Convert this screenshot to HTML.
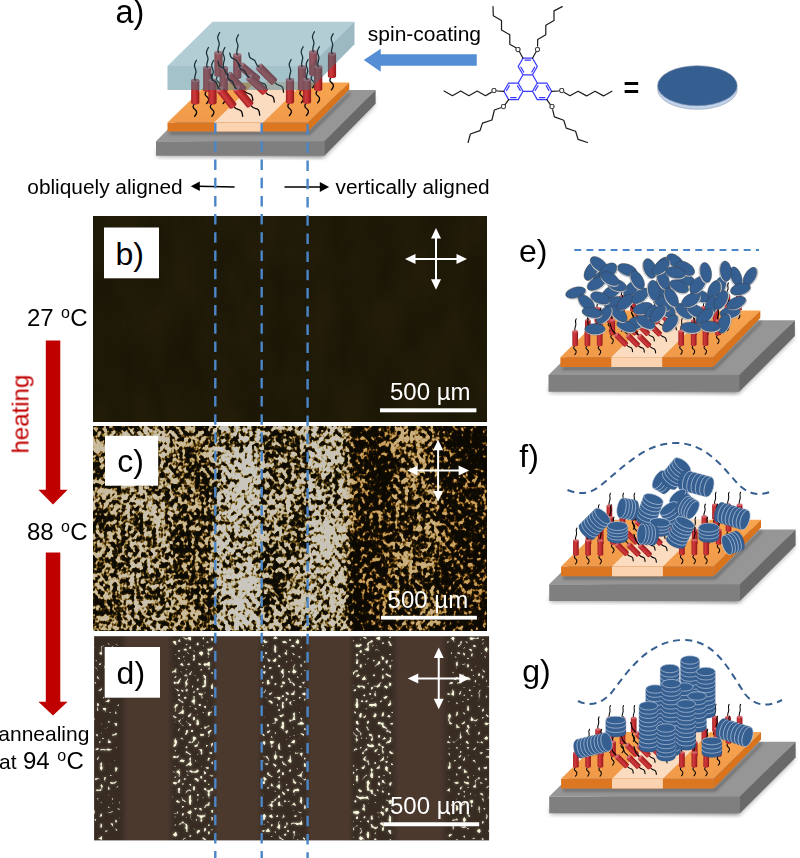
<!DOCTYPE html>
<html><head><meta charset="utf-8"><title>Figure</title>
<style>
html,body{margin:0;padding:0;background:#fff;}
svg{display:block;}
text{font-family:"Liberation Sans",sans-serif;fill:#000;}
.tl{fill:none;stroke:#000;stroke-width:1.3;stroke-linecap:round;}
.tl2{fill:none;stroke-width:1.3;stroke-linecap:round;}
.ts{fill:none;stroke:#000;stroke-width:1.05;stroke-linecap:round;}
.dash{stroke:#4a86c8;stroke-width:2.4;stroke-dasharray:10.5 7.7;fill:none;}
.bb{stroke:#3838ff;stroke-width:1.25;fill:none;stroke-linecap:round;stroke-linejoin:round;}
.kb{stroke:#1a1a1a;stroke-width:1.2;fill:none;stroke-linecap:round;stroke-linejoin:round;}
.ol{font-size:7px;fill:#1a1a1a;stroke:#1a1a1a;stroke-width:0.25;text-anchor:middle;}
.dk{fill:#365f91;stroke:#e8eef5;stroke-width:0.6;}
.wl{fill:none;stroke:#cfdbea;stroke-width:0.55;}
</style></head><body>
<svg width="800" height="858" viewBox="0 0 800 858">
<defs>
<linearGradient id="gRod" x1="0" x2="1" y1="0" y2="0">
<stop offset="0" stop-color="#a51f24"/><stop offset="0.35" stop-color="#cf3b3d"/><stop offset="0.7" stop-color="#b9282c"/><stop offset="1" stop-color="#8e181c"/>
</linearGradient>
<linearGradient id="gOr" x1="0" x2="0" y1="0" y2="1">
<stop offset="0" stop-color="#f9a54f"/><stop offset="1" stop-color="#f09a4a"/>
</linearGradient>
<filter id="blur3" x="-20%" y="-50%" width="140%" height="200%"><feGaussianBlur stdDeviation="2.5"/></filter>
<filter id="blur2" x="-20%" y="-50%" width="140%" height="200%"><feGaussianBlur stdDeviation="1.5"/></filter>
</defs>
<rect width="800" height="858" fill="#fff"/>

<!-- panel a -->
<polygon points="157.0,151.8 324.4,156.8 373.6,106.6 373.6,96.0" fill="#000" opacity="0.35" filter="url(#blur3)"/>
<rect x="157.0" y="150.8" width="166.4" height="6" fill="#000" opacity="0.35" filter="url(#blur3)"/>
<polygon points="156.00,141.20 324.40,141.20 375.60,90.00 207.20,90.00" fill="#969696" />
<polygon points="156.00,141.20 324.40,141.20 324.40,155.80 156.00,155.80" fill="#7f7f7f" />
<polygon points="324.40,141.20 375.60,90.00 375.60,103.80 324.40,155.80" fill="#696969" />
<polygon points="169.50,131.50 309.00,131.50 350.25,91.50 350.25,94.50 310.00,134.50 169.50,134.50" fill="#000" opacity="0.3" filter="url(#blur2)"/>
<polygon points="167.50,122.50 308.00,122.50 349.25,82.50 208.75,82.50" fill="url(#gOr)" />
<polygon points="214.00,122.50 263.00,122.50 304.25,82.50 255.25,82.50" fill="#fcdcc1" />
<polygon points="167.50,122.50 308.00,122.50 308.00,131.50 167.50,131.50" fill="#dc7620" />
<polygon points="214.00,122.50 263.00,122.50 263.00,131.50 214.00,131.50" fill="#fbd3b1" />
<polygon points="308.00,122.50 349.25,82.50 349.25,89.50 308.00,131.50" fill="#d9731c" />
<path d="M313.25,74.75 c-3.2,2.5 -2.6,4.6 -0.2,6.2 c2.6,1.8 1.8,4.6 -0.4,6.8" class="tl"/>
<g transform="translate(313.25,51.75) rotate(0.0)">
<path d="M-4.10,0 V22.50 A4.10,1.80 0 0 0 4.10,22.50 V0 Z" fill="url(#gRod)"/>
<ellipse cx="0" cy="0" rx="4.10" ry="1.80" fill="#d4646a"/>
</g>
<path d="M218.50,75.50 c-3.2,2.5 -2.6,4.6 -0.2,6.2 c2.6,1.8 1.8,4.6 -0.4,6.8" class="tl"/>
<g transform="translate(218.50,52.50) rotate(0.0)">
<path d="M-4.10,0 V22.50 A4.10,1.80 0 0 0 4.10,22.50 V0 Z" fill="url(#gRod)"/>
<ellipse cx="0" cy="0" rx="4.10" ry="1.80" fill="#d4646a"/>
</g>
<path d="M332.00,76.70 c-3.2,2.5 -2.6,4.6 -0.2,6.2 c2.6,1.8 1.8,4.6 -0.4,6.8" class="tl"/>
<g transform="translate(332.00,53.70) rotate(0.0)">
<path d="M-4.10,0 V22.50 A4.10,1.80 0 0 0 4.10,22.50 V0 Z" fill="url(#gRod)"/>
<ellipse cx="0" cy="0" rx="4.10" ry="1.80" fill="#d4646a"/>
</g>
<path d="M237.25,77.75 c-3.2,2.5 -2.6,4.6 -0.2,6.2 c2.6,1.8 1.8,4.6 -0.4,6.8" class="tl"/>
<g transform="translate(237.25,54.75) rotate(0.0)">
<path d="M-4.10,0 V22.50 A4.10,1.80 0 0 0 4.10,22.50 V0 Z" fill="url(#gRod)"/>
<ellipse cx="0" cy="0" rx="4.10" ry="1.80" fill="#d4646a"/>
</g>
<path d="M302.00,89.75 c-3.2,2.5 -2.6,4.6 -0.2,6.2 c2.6,1.8 1.8,4.6 -0.4,6.8" class="tl"/>
<g transform="translate(302.00,66.75) rotate(0.0)">
<path d="M-4.10,0 V22.50 A4.10,1.80 0 0 0 4.10,22.50 V0 Z" fill="url(#gRod)"/>
<ellipse cx="0" cy="0" rx="4.10" ry="1.80" fill="#d4646a"/>
</g>
<path d="M318.20,89.75 c-3.2,2.5 -2.6,4.6 -0.2,6.2 c2.6,1.8 1.8,4.6 -0.4,6.8" class="tl"/>
<g transform="translate(318.20,66.75) rotate(0.0)">
<path d="M-4.10,0 V22.50 A4.10,1.80 0 0 0 4.10,22.50 V0 Z" fill="url(#gRod)"/>
<ellipse cx="0" cy="0" rx="4.10" ry="1.80" fill="#d4646a"/>
</g>
<path d="M207.25,90.50 c-3.2,2.5 -2.6,4.6 -0.2,6.2 c2.6,1.8 1.8,4.6 -0.4,6.8" class="tl"/>
<g transform="translate(207.25,67.50) rotate(0.0)">
<path d="M-4.10,0 V22.50 A4.10,1.80 0 0 0 4.10,22.50 V0 Z" fill="url(#gRod)"/>
<ellipse cx="0" cy="0" rx="4.10" ry="1.80" fill="#d4646a"/>
</g>
<path d="M223.75,90.50 c-3.2,2.5 -2.6,4.6 -0.2,6.2 c2.6,1.8 1.8,4.6 -0.4,6.8" class="tl"/>
<g transform="translate(223.75,67.50) rotate(0.0)">
<path d="M-4.10,0 V22.50 A4.10,1.80 0 0 0 4.10,22.50 V0 Z" fill="url(#gRod)"/>
<ellipse cx="0" cy="0" rx="4.10" ry="1.80" fill="#d4646a"/>
</g>
<path d="M290.00,102.50 c-3.2,2.5 -2.6,4.6 -0.2,6.2 c2.6,1.8 1.8,4.6 -0.4,6.8" class="tl"/>
<g transform="translate(290.00,79.50) rotate(0.0)">
<path d="M-4.10,0 V22.50 A4.10,1.80 0 0 0 4.10,22.50 V0 Z" fill="url(#gRod)"/>
<ellipse cx="0" cy="0" rx="4.10" ry="1.80" fill="#d4646a"/>
</g>
<path d="M307.00,102.50 c-3.2,2.5 -2.6,4.6 -0.2,6.2 c2.6,1.8 1.8,4.6 -0.4,6.8" class="tl"/>
<g transform="translate(307.00,79.50) rotate(0.0)">
<path d="M-4.10,0 V22.50 A4.10,1.80 0 0 0 4.10,22.50 V0 Z" fill="url(#gRod)"/>
<ellipse cx="0" cy="0" rx="4.10" ry="1.80" fill="#d4646a"/>
</g>
<path d="M195.25,103.25 c-3.2,2.5 -2.6,4.6 -0.2,6.2 c2.6,1.8 1.8,4.6 -0.4,6.8" class="tl"/>
<g transform="translate(195.25,80.25) rotate(0.0)">
<path d="M-4.10,0 V22.50 A4.10,1.80 0 0 0 4.10,22.50 V0 Z" fill="url(#gRod)"/>
<ellipse cx="0" cy="0" rx="4.10" ry="1.80" fill="#d4646a"/>
</g>
<path d="M212.50,103.25 c-3.2,2.5 -2.6,4.6 -0.2,6.2 c2.6,1.8 1.8,4.6 -0.4,6.8" class="tl"/>
<g transform="translate(212.50,80.25) rotate(0.0)">
<path d="M-4.10,0 V22.50 A4.10,1.80 0 0 0 4.10,22.50 V0 Z" fill="url(#gRod)"/>
<ellipse cx="0" cy="0" rx="4.10" ry="1.80" fill="#d4646a"/>
</g>
<path d="M257.09,79.50 c2.5,3 5,4 7,4.3 c1.8,0.5 2.5,3.5 2.7,6.2" class="tl"/>
<g transform="translate(241.00,66.00) rotate(-50.0)">
<path d="M-4.10,0 V21.00 A4.10,1.80 0 0 0 4.10,21.00 V0 Z" fill="url(#gRod)"/>
<ellipse cx="0" cy="0" rx="4.10" ry="1.80" fill="#d4646a"/>
</g>
<path d="M273.85,81.60 c2.5,3 5,4 7,4.3 c1.8,0.5 2.5,3.5 2.7,6.2" class="tl"/>
<g transform="translate(259.00,66.75) rotate(-45.0)">
<path d="M-4.10,0 V21.00 A4.10,1.80 0 0 0 4.10,21.00 V0 Z" fill="url(#gRod)"/>
<ellipse cx="0" cy="0" rx="4.10" ry="1.80" fill="#d4646a"/>
</g>
<path d="M243.10,89.85 c2.5,3 5,4 7,4.3 c1.8,0.5 2.5,3.5 2.7,6.2" class="tl"/>
<g transform="translate(228.25,75.00) rotate(-45.0)">
<path d="M-4.10,0 V21.00 A4.10,1.80 0 0 0 4.10,21.00 V0 Z" fill="url(#gRod)"/>
<ellipse cx="0" cy="0" rx="4.10" ry="1.80" fill="#d4646a"/>
</g>
<path d="M264.61,91.57 c2.5,3 5,4 7,4.3 c1.8,0.5 2.5,3.5 2.7,6.2" class="tl"/>
<g transform="translate(249.25,77.25) rotate(-47.0)">
<path d="M-4.10,0 V21.00 A4.10,1.80 0 0 0 4.10,21.00 V0 Z" fill="url(#gRod)"/>
<ellipse cx="0" cy="0" rx="4.10" ry="1.80" fill="#d4646a"/>
</g>
<path d="M250.00,104.59 c2.5,3 5,4 7,4.3 c1.8,0.5 2.5,3.5 2.7,6.2" class="tl"/>
<g transform="translate(236.50,88.50) rotate(-40.0)">
<path d="M-4.10,0 V21.00 A4.10,1.80 0 0 0 4.10,21.00 V0 Z" fill="url(#gRod)"/>
<ellipse cx="0" cy="0" rx="4.10" ry="1.80" fill="#d4646a"/>
</g>
<path d="M232.93,105.80 c2.5,3 5,4 7,4.3 c1.8,0.5 2.5,3.5 2.7,6.2" class="tl"/>
<g transform="translate(220.00,89.25) rotate(-38.0)">
<path d="M-4.10,0 V21.00 A4.10,1.80 0 0 0 4.10,21.00 V0 Z" fill="url(#gRod)"/>
<ellipse cx="0" cy="0" rx="4.10" ry="1.80" fill="#d4646a"/>
</g>
<polygon points="167.50,66.00 212.50,21.75 354.50,21.75 309.50,66.00" fill="#4a8799" opacity="0.42"/>
<polygon points="167.50,66.00 309.50,66.00 309.50,90.00 167.50,90.00" fill="#3e7e8e" opacity="0.47"/>
<polygon points="309.50,66.00 354.50,21.75 354.50,44.25 309.50,90.00" fill="#3a7484" opacity="0.5"/>
<g style="stroke:#1c3038">
<path transform="translate(218.50,52.50) rotate(0.0)" d="M0,0 c-2.5,-4.0 2.5,-7.0 0.3,-11.0 s-0.8,-6.0 0.9,-9.0" class="tl2"/>
<path transform="translate(237.25,54.75) rotate(0.0)" d="M0,0 c-2.5,-4.0 2.5,-7.0 0.3,-11.0 s-0.8,-6.0 0.9,-9.0" class="tl2"/>
<path transform="translate(207.25,67.50) rotate(0.0)" d="M0,0 c-2.5,-4.0 2.5,-7.0 0.3,-11.0 s-0.8,-6.0 0.9,-9.0" class="tl2"/>
<path transform="translate(223.75,67.50) rotate(0.0)" d="M0,0 c-2.5,-4.0 2.5,-7.0 0.3,-11.0 s-0.8,-6.0 0.9,-9.0" class="tl2"/>
<path transform="translate(195.25,80.25) rotate(0.0)" d="M0,0 c-2.5,-4.0 2.5,-7.0 0.3,-11.0 s-0.8,-6.0 0.9,-9.0" class="tl2"/>
<path transform="translate(212.50,80.25) rotate(0.0)" d="M0,0 c-2.5,-4.0 2.5,-7.0 0.3,-11.0 s-0.8,-6.0 0.9,-9.0" class="tl2"/>
<path transform="translate(313.25,51.75) rotate(0.0)" d="M0,0 c-2.5,-4.0 2.5,-7.0 0.3,-11.0 s-0.8,-6.0 0.9,-9.0" class="tl2"/>
<path transform="translate(332.00,53.70) rotate(0.0)" d="M0,0 c-2.5,-4.0 2.5,-7.0 0.3,-11.0 s-0.8,-6.0 0.9,-9.0" class="tl2"/>
<path transform="translate(302.00,66.75) rotate(0.0)" d="M0,0 c-2.5,-4.0 2.5,-7.0 0.3,-11.0 s-0.8,-6.0 0.9,-9.0" class="tl2"/>
<path transform="translate(318.20,66.75) rotate(0.0)" d="M0,0 c-2.5,-4.0 2.5,-7.0 0.3,-11.0 s-0.8,-6.0 0.9,-9.0" class="tl2"/>
<path transform="translate(290.00,79.50) rotate(0.0)" d="M0,0 c-2.5,-4.0 2.5,-7.0 0.3,-11.0 s-0.8,-6.0 0.9,-9.0" class="tl2"/>
<path transform="translate(307.00,79.50) rotate(0.0)" d="M0,0 c-2.5,-4.0 2.5,-7.0 0.3,-11.0 s-0.8,-6.0 0.9,-9.0" class="tl2"/>
<path transform="translate(259.00,66.75) rotate(-40.5)" d="M0,0 c-2.5,-3.4 2.5,-5.9 0.3,-9.4 s-0.8,-5.1 0.9,-7.7" class="tl2"/>
<path transform="translate(241.00,66.00) rotate(-45.0)" d="M0,0 c-2.5,-3.4 2.5,-5.9 0.3,-9.4 s-0.8,-5.1 0.9,-7.7" class="tl2"/>
<path transform="translate(228.25,75.00) rotate(-40.5)" d="M0,0 c-2.5,-3.4 2.5,-5.9 0.3,-9.4 s-0.8,-5.1 0.9,-7.7" class="tl2"/>
<path transform="translate(249.25,77.25) rotate(-42.3)" d="M0,0 c-2.5,-3.4 2.5,-5.9 0.3,-9.4 s-0.8,-5.1 0.9,-7.7" class="tl2"/>
<path transform="translate(220.00,89.25) rotate(-34.2)" d="M0,0 c-2.5,-3.4 2.5,-5.9 0.3,-9.4 s-0.8,-5.1 0.9,-7.7" class="tl2"/>
<path transform="translate(236.50,88.50) rotate(-36.0)" d="M0,0 c-2.5,-3.4 2.5,-5.9 0.3,-9.4 s-0.8,-5.1 0.9,-7.7" class="tl2"/>
</g>
<text x="115.5" y="23.3" font-size="32.5">a)</text>
<text x="367.8" y="41.3" font-size="21">spin-coating</text>
<polygon points="363.75,60 380.75,48.75 380.75,54.25 476.75,54.25 476.75,65.75 380.75,65.75 380.75,71.75" fill="#558ed5"/>
<text x="27.3" y="194" font-size="20.85">obliquely aligned</text>
<text x="335.6" y="194" font-size="20.85">vertically aligned</text>
<path d="M234.6,187.1 L198,186.3" stroke="#000" stroke-width="1.5"/><polygon points="190.8,186.2 199.8,181.4 199.8,191.1"/>
<path d="M284.5,187 H321" stroke="#000" stroke-width="1.5"/><polygon points="329.1,187 319.8,182.1 319.8,191.9"/>
<path class="bb" d="M537.30,66.50 L532.52,58.23 L522.98,58.23 L518.20,66.50 L522.98,74.77 L532.52,74.77 ZM522.97,91.31 L518.20,83.04 L508.65,83.04 L503.87,91.31 L508.65,99.58 L518.20,99.58 ZM551.62,91.31 L546.85,83.04 L537.30,83.04 L532.53,91.31 L537.30,99.58 L546.85,99.58 ZM537.30,83.04 L532.52,74.77 L522.98,74.77 L518.20,83.04 L522.98,91.31 L532.52,91.31 ZM530.51,60.21 L524.99,60.21M520.93,67.25 L523.69,72.03M531.81,72.03 L534.57,67.25M509.36,85.78 L506.60,90.56M510.67,97.60 L516.18,97.60M520.25,90.56 L517.49,85.78M548.90,90.56 L546.14,85.78M539.32,97.60 L544.83,97.60M538.01,85.78 L535.25,90.56"/>
<path class="kb" d="M522.98,58.23 L519.51,51.75 M515.50,47.60 L509.80,44.30 L509.80,34.80 L501.50,30.00 L501.50,20.40 L493.30,15.70 L493.00,6.60 M532.52,58.23 L536.06,51.73 M537.56,46.10 L537.70,39.50 L545.80,34.80 L545.80,25.20 L554.00,20.40 L554.00,10.90 L562.20,6.60 M503.87,91.31 L496.90,91.02 M491.30,92.39 L485.50,95.70 L477.20,91.10 L468.90,95.70 L460.70,91.10 L452.40,95.70 L444.10,91.10 M508.65,99.58 L505.24,104.36 M500.67,107.80 L494.40,110.00 L491.90,120.00 L482.50,123.10 L480.00,130.60 L470.40,134.00 L468.10,142.50 M551.62,91.31 L558.70,91.02 M564.30,92.40 L570.00,95.70 L578.10,91.20 L586.60,95.90 L595.00,91.20 L603.50,95.90 L611.90,91.20 M546.85,99.58 L550.18,104.34 M552.62,109.71 L554.40,116.90 L563.75,120.25 L566.25,128.10 L575.60,131.25 L578.10,139.40 L587.50,142.50 "/>
<text class="ol" x="518.10" y="51.60">O</text>
<text class="ol" x="537.50" y="51.60">O</text>
<text class="ol" x="493.90" y="93.40">O</text>
<text class="ol" x="503.50" y="109.30">O</text>
<text class="ol" x="561.70" y="93.40">O</text>
<text class="ol" x="551.90" y="109.30">O</text>
<text x="623.6" y="96.8" font-size="27" font-weight="bold">=</text>
<ellipse cx="697.4" cy="89.3" rx="39.8" ry="20" fill="#c0d2ec" stroke="#9aa6b5" stroke-width="0.7"/>
<ellipse cx="697.4" cy="85.7" rx="39.8" ry="20" fill="#365f91" stroke="#7f8fa6" stroke-width="0.6"/>
<!-- panel b -->
<defs><linearGradient id="tintC" x1="93" x2="487" y1="0" y2="0" gradientUnits="userSpaceOnUse">
<stop offset="0.0000" stop-color="#fff2d6"/>
<stop offset="0.0635" stop-color="#fff3da"/>
<stop offset="0.0838" stop-color="#fff8ea"/>
<stop offset="0.2005" stop-color="#fff8ea"/>
<stop offset="0.2208" stop-color="#fff0d0"/>
<stop offset="0.2919" stop-color="#fff0d0"/>
<stop offset="0.3122" stop-color="#ffffff"/>
<stop offset="0.4213" stop-color="#ffffff"/>
<stop offset="0.4391" stop-color="#fffaf0"/>
<stop offset="0.5330" stop-color="#fffaf0"/>
<stop offset="0.5508" stop-color="#ffffff"/>
<stop offset="0.6396" stop-color="#fffaf0"/>
<stop offset="0.6675" stop-color="#ffd894"/>
<stop offset="0.7487" stop-color="#ffd894"/>
<stop offset="0.7690" stop-color="#ffe2ac"/>
<stop offset="0.8655" stop-color="#ffe2ac"/>
<stop offset="0.8959" stop-color="#ffd48c"/>
<stop offset="1.0000" stop-color="#ffd48c"/>
</linearGradient></defs>
<defs>
<linearGradient id="biasC" x1="93" x2="487" y1="0" y2="0" gradientUnits="userSpaceOnUse">
<stop offset="0.0000" stop-color="#666666"/>
<stop offset="0.0635" stop-color="#6b6b6b"/>
<stop offset="0.0838" stop-color="#787878"/>
<stop offset="0.1447" stop-color="#7a7a7a"/>
<stop offset="0.2005" stop-color="#787878"/>
<stop offset="0.2208" stop-color="#616161"/>
<stop offset="0.2919" stop-color="#5e5e5e"/>
<stop offset="0.3122" stop-color="#9e9e9e"/>
<stop offset="0.4213" stop-color="#9e9e9e"/>
<stop offset="0.4391" stop-color="#757575"/>
<stop offset="0.5330" stop-color="#757575"/>
<stop offset="0.5508" stop-color="#9e9e9e"/>
<stop offset="0.6396" stop-color="#999999"/>
<stop offset="0.6675" stop-color="#383838"/>
<stop offset="0.7487" stop-color="#3d3d3d"/>
<stop offset="0.7690" stop-color="#616161"/>
<stop offset="0.8655" stop-color="#5c5c5c"/>
<stop offset="0.8959" stop-color="#333333"/>
<stop offset="1.0000" stop-color="#333333"/>
</linearGradient>
<filter id="fC" filterUnits="userSpaceOnUse" x="93.1" y="426.1" width="393.6" height="204.65" color-interpolation-filters="sRGB">
<feTurbulence type="fractalNoise" baseFrequency="0.23 0.19" numOctaves="2" seed="11" result="t"/>
<feColorMatrix in="t" type="matrix" values="1 0 0 0 0  1 0 0 0 0  1 0 0 0 0  0 0 0 0 1" result="n"/>
<feTurbulence type="fractalNoise" baseFrequency="0.035" numOctaves="2" seed="5" result="t2"/>
<feColorMatrix in="t2" type="matrix" values="1 0 0 0 0  1 0 0 0 0  1 0 0 0 0  0 0 0 0 1" result="m"/>
<feComposite in="m" in2="SourceGraphic" operator="arithmetic" k1="0" k2="0.9" k3="1" k4="-0.45" result="b2"/>
<feComposite in="n" in2="b2" operator="arithmetic" k1="0" k2="2.0" k3="1" k4="-1.0" result="s"/>
<feComponentTransfer in="s">
<feFuncR type="table" tableValues="0.05 0.06 0.07 0.10 0.27 0.56 0.74 0.78 0.79 0.79 0.79"/>
<feFuncG type="table" tableValues="0.04 0.05 0.06 0.08 0.20 0.44 0.70 0.77 0.78 0.78 0.78"/>
<feFuncB type="table" tableValues="0.02 0.02 0.02 0.02 0.05 0.18 0.57 0.72 0.75 0.75 0.75"/>
</feComponentTransfer>
</filter>
<linearGradient id="biasD" x1="93" x2="487" y1="0" y2="0" gradientUnits="userSpaceOnUse">
<stop offset="0.0000" stop-color="#646464"/>
<stop offset="0.0635" stop-color="#646464"/>
<stop offset="0.0863" stop-color="#000000"/>
<stop offset="0.1904" stop-color="#000000"/>
<stop offset="0.2056" stop-color="#727272"/>
<stop offset="0.2335" stop-color="#6d6d6d"/>
<stop offset="0.2792" stop-color="#6d6d6d"/>
<stop offset="0.3020" stop-color="#727272"/>
<stop offset="0.3147" stop-color="#000000"/>
<stop offset="0.4188" stop-color="#000000"/>
<stop offset="0.4315" stop-color="#6b6b6b"/>
<stop offset="0.5381" stop-color="#6b6b6b"/>
<stop offset="0.5508" stop-color="#000000"/>
<stop offset="0.6497" stop-color="#000000"/>
<stop offset="0.6624" stop-color="#727272"/>
<stop offset="0.6904" stop-color="#6f6f6f"/>
<stop offset="0.7589" stop-color="#6f6f6f"/>
<stop offset="0.7741" stop-color="#000000"/>
<stop offset="0.8832" stop-color="#000000"/>
<stop offset="0.9010" stop-color="#696969"/>
<stop offset="1.0000" stop-color="#646464"/>
</linearGradient>
<linearGradient id="bgD" x1="93" x2="487" y1="0" y2="0" gradientUnits="userSpaceOnUse">
<stop offset="0.0000" stop-color="#372b22"/>
<stop offset="0.0685" stop-color="#372b22"/>
<stop offset="0.0888" stop-color="#4b392e"/>
<stop offset="0.1878" stop-color="#4b392e"/>
<stop offset="0.2081" stop-color="#372b22"/>
<stop offset="0.2995" stop-color="#372b22"/>
<stop offset="0.3173" stop-color="#4b392e"/>
<stop offset="0.4162" stop-color="#4b392e"/>
<stop offset="0.4340" stop-color="#372b22"/>
<stop offset="0.5355" stop-color="#372b22"/>
<stop offset="0.5533" stop-color="#4b392e"/>
<stop offset="0.6472" stop-color="#4b392e"/>
<stop offset="0.6650" stop-color="#372b22"/>
<stop offset="0.7563" stop-color="#372b22"/>
<stop offset="0.7766" stop-color="#4b392e"/>
<stop offset="0.8807" stop-color="#4b392e"/>
<stop offset="0.9036" stop-color="#372b22"/>
<stop offset="1.0000" stop-color="#372b22"/>
</linearGradient>
<filter id="fD" filterUnits="userSpaceOnUse" x="94.1" y="636.2" width="395" height="204.2" color-interpolation-filters="sRGB">
<feTurbulence type="fractalNoise" baseFrequency="0.27" numOctaves="1" seed="4" result="t"/>
<feColorMatrix in="t" type="matrix" values="1 0 0 0 0  1 0 0 0 0  1 0 0 0 0  0 0 0 0 1" result="n"/>
<feComposite in="n" in2="SourceGraphic" operator="arithmetic" k1="0" k2="0.6" k3="0.6" k4="0" result="s"/>
<feColorMatrix in="s" type="matrix" values="0 0 0 0 0.97  0 0 0 0 0.97  0 0 0 0 0.86  12 0 0 0 -7.42" result="dots0"/>
<feGaussianBlur in="dots0" stdDeviation="0.45" result="dots"/>
<feGaussianBlur in="dots0" stdDeviation="1.4" result="glow0"/>
<feColorMatrix in="glow0" type="matrix" values="1 0 0 0 0 0 1 0 0 0 0 0 1 0 0 0 0 0 0.8 0" result="glow"/>
<feMerge><feMergeNode in="glow"/><feMergeNode in="dots"/><feMergeNode in="dots"/></feMerge>
</filter>
<filter id="fB" filterUnits="userSpaceOnUse" x="93.1" y="216.8" width="393.6" height="204.6" color-interpolation-filters="sRGB">
<feTurbulence type="fractalNoise" baseFrequency="0.03 0.015" numOctaves="3" seed="2" result="t"/>
<feColorMatrix in="t" type="matrix" values="0.05 0 0 0 0.095  0.045 0 0 0 0.075  0.02 0 0 0 0.018  0 0 0 0 1"/>
</filter>

</defs>
<rect x="93.1" y="216.8" width="393.6" height="204.6" fill="#1d1706"/>
<rect x="93.1" y="216.8" width="393.6" height="204.6" filter="url(#fB)"/>
<rect x="93.1" y="426.1" width="393.6" height="204.65" fill="url(#biasC)" filter="url(#fC)"/>
<rect x="93.1" y="426.1" width="393.6" height="204.65" fill="url(#tintC)" style="mix-blend-mode:multiply"/>
<rect x="94.1" y="636.2" width="395" height="204.2" fill="url(#bgD)"/>
<rect x="94.1" y="636.2" width="395" height="204.2" fill="url(#biasD)" filter="url(#fD)"/>
<rect x="104.0" y="227.5" width="55.0" height="50.8" fill="#fff"/>
<text x="115.5" y="264.5" font-size="32">b)</text>
<g transform="translate(436.00,258.90)"><path d="M-22,0 H22 M0,-22 V22" stroke="#fff" stroke-width="2" fill="none"/><polygon points="-31,0 -20.5,-5 -20.5,5" fill="#fff"/><polygon points="31,0 20.5,-5 20.5,5" fill="#fff"/><polygon points="0,-30.8 -5,-20.3 5,-20.3" fill="#fff"/><polygon points="0,30.8 -5,20.3 5,20.3" fill="#fff"/></g>
<text x="390.0" y="400.3" font-size="24" style="fill:#fff">500 µm</text>
<rect x="380.0" y="408.30" width="96.4" height="4.0" fill="#fff"/>
<rect x="105.0" y="435.8" width="53.2" height="49.9" fill="#fff"/>
<text x="117.2" y="471.8" font-size="32">c)</text>
<g transform="translate(438.10,470.60)"><path d="M-22,0 H22 M0,-22 V22" stroke="#fff" stroke-width="2" fill="none"/><polygon points="-31,0 -20.5,-5 -20.5,5" fill="#fff"/><polygon points="31,0 20.5,-5 20.5,5" fill="#fff"/><polygon points="0,-30.8 -5,-20.3 5,-20.3" fill="#fff"/><polygon points="0,30.8 -5,20.3 5,20.3" fill="#fff"/></g>
<text x="387.6" y="607.7" font-size="24" style="fill:#fff">500 µm</text>
<rect x="381.0" y="615.80" width="95.9" height="3.8" fill="#fff"/>
<rect x="104.7" y="647.0" width="55.3" height="50.7" fill="#fff"/>
<text x="116.6" y="683.8" font-size="32">d)</text>
<g transform="translate(438.75,678.40)"><path d="M-22,0 H22 M0,-22 V22" stroke="#fff" stroke-width="2" fill="none"/><polygon points="-31,0 -20.5,-5 -20.5,5" fill="#fff"/><polygon points="31,0 20.5,-5 20.5,5" fill="#fff"/><polygon points="0,-30.8 -5,-20.3 5,-20.3" fill="#fff"/><polygon points="0,30.8 -5,20.3 5,20.3" fill="#fff"/></g>
<text x="390.0" y="814.4" font-size="24" style="fill:#fff">500 µm</text>
<rect x="383.3" y="822.25" width="95.9" height="4.0" fill="#fff"/>
<path class="dash" d="M215.30,123.1 V858"/>
<path class="dash" d="M261.70,123.1 V858"/>
<path class="dash" d="M307.60,124.2 V858"/>
<text x="27.0" y="325.6" font-size="24">27 <tspan font-size="16" dy="-7.6" dx="0.7">o</tspan><tspan dy="7.6" dx="0.3">C</tspan></text>
<text x="27.0" y="539.9" font-size="24">88 <tspan font-size="16" dy="-7.6" dx="0.7">o</tspan><tspan dy="7.6" dx="0.3">C</tspan></text>
<polygon points="45.8,340.5 60.3,340.5 60.3,489.7 67.6,489.7 53,504.5 38.4,489.7 45.8,489.7" fill="#c00000"/>
<polygon points="45.8,552.4 60.3,552.4 60.3,701.8 67.6,701.8 53,715.6 38.4,701.8 45.8,701.8" fill="#c00000"/>
<text transform="translate(28.5,453.5) rotate(-90)" font-size="24" style="fill:#c00000">heating</text>
<text x="89.4" y="740.6" font-size="21" text-anchor="end">annealing</text>
<text x="-1" y="768.5" font-size="21">at <tspan font-size="24" dx="0.6">94 </tspan><tspan font-size="16" dy="-7.5" dx="0.8">o</tspan><tspan font-size="24" dy="7.5" dx="0.4">C</tspan></text>
<!-- panel e -->
<polygon points="549.5,387.7 739.2,392.7 792.9,338.9 792.9,326.2" fill="#000" opacity="0.35" filter="url(#blur3)"/>
<rect x="549.5" y="386.7" width="188.7" height="6" fill="#000" opacity="0.35" filter="url(#blur3)"/>
<polygon points="548.50,375.00 739.20,375.00 794.90,320.20 604.20,320.20" fill="#969696" />
<polygon points="548.50,375.00 739.20,375.00 739.20,391.70 548.50,391.70" fill="#7f7f7f" />
<polygon points="739.20,375.00 794.90,320.20 794.90,336.10 739.20,391.70" fill="#696969" />
<polygon points="562.40,366.90 713.90,366.90 761.30,320.10 761.30,323.10 714.90,369.90 562.40,369.90" fill="#000" opacity="0.3" filter="url(#blur2)"/>
<polygon points="560.40,357.30 712.90,357.30 760.30,310.50 607.80,310.50" fill="url(#gOr)" />
<polygon points="611.30,357.30 662.20,357.30 709.60,310.50 658.70,310.50" fill="#fcdcc1" />
<polygon points="560.40,357.30 712.90,357.30 712.90,366.90 560.40,366.90" fill="#dc7620" />
<polygon points="611.30,357.30 662.20,357.30 662.20,366.90 611.30,366.90" fill="#fbd3b1" />
<polygon points="712.90,357.30 760.30,310.50 760.30,318.10 712.90,366.90" fill="#d9731c" />
<path d="M714.30,309.50 c-2.2,1.7 -1.8,3.2 -0.1,4.3 c1.8,1.2 1.2,3.2 -0.3,4.9" class="ts"/>
<path d="M714.30,295.40 c-1.8,-3 1.4,-5 0.6,-8 c-0.5,-2 -0.3,-3.5 0.4,-4.5" class="ts"/>
<g transform="translate(714.30,295.40) rotate(0.0)">
<path d="M-2.85,0 V13.80 A2.85,1.25 0 0 0 2.85,13.80 V0 Z" fill="url(#gRod)"/>
<ellipse cx="0" cy="0" rx="2.85" ry="1.25" fill="#d4646a"/>
</g>
<path d="M727.40,309.50 c-2.2,1.7 -1.8,3.2 -0.1,4.3 c1.8,1.2 1.2,3.2 -0.3,4.9" class="ts"/>
<path d="M727.40,295.40 c-1.8,-3 1.4,-5 0.6,-8 c-0.5,-2 -0.3,-3.5 0.4,-4.5" class="ts"/>
<g transform="translate(727.40,295.40) rotate(0.0)">
<path d="M-2.85,0 V13.80 A2.85,1.25 0 0 0 2.85,13.80 V0 Z" fill="url(#gRod)"/>
<ellipse cx="0" cy="0" rx="2.85" ry="1.25" fill="#d4646a"/>
</g>
<path d="M738.90,309.50 c-2.2,1.7 -1.8,3.2 -0.1,4.3 c1.8,1.2 1.2,3.2 -0.3,4.9" class="ts"/>
<path d="M738.90,295.40 c-1.8,-3 1.4,-5 0.6,-8 c-0.5,-2 -0.3,-3.5 0.4,-4.5" class="ts"/>
<g transform="translate(738.90,295.40) rotate(0.0)">
<path d="M-2.85,0 V13.80 A2.85,1.25 0 0 0 2.85,13.80 V0 Z" fill="url(#gRod)"/>
<ellipse cx="0" cy="0" rx="2.85" ry="1.25" fill="#d4646a"/>
</g>
<path d="M608.70,310.60 c-2.2,1.7 -1.8,3.2 -0.1,4.3 c1.8,1.2 1.2,3.2 -0.3,4.9" class="ts"/>
<path d="M608.70,296.50 c-1.8,-3 1.4,-5 0.6,-8 c-0.5,-2 -0.3,-3.5 0.4,-4.5" class="ts"/>
<g transform="translate(608.70,296.50) rotate(0.0)">
<path d="M-2.85,0 V13.80 A2.85,1.25 0 0 0 2.85,13.80 V0 Z" fill="url(#gRod)"/>
<ellipse cx="0" cy="0" rx="2.85" ry="1.25" fill="#d4646a"/>
</g>
<path d="M621.80,310.60 c-2.2,1.7 -1.8,3.2 -0.1,4.3 c1.8,1.2 1.2,3.2 -0.3,4.9" class="ts"/>
<path d="M621.80,296.50 c-1.8,-3 1.4,-5 0.6,-8 c-0.5,-2 -0.3,-3.5 0.4,-4.5" class="ts"/>
<g transform="translate(621.80,296.50) rotate(0.0)">
<path d="M-2.85,0 V13.80 A2.85,1.25 0 0 0 2.85,13.80 V0 Z" fill="url(#gRod)"/>
<ellipse cx="0" cy="0" rx="2.85" ry="1.25" fill="#d4646a"/>
</g>
<path d="M633.00,310.60 c-2.2,1.7 -1.8,3.2 -0.1,4.3 c1.8,1.2 1.2,3.2 -0.3,4.9" class="ts"/>
<path d="M633.00,296.50 c-1.8,-3 1.4,-5 0.6,-8 c-0.5,-2 -0.3,-3.5 0.4,-4.5" class="ts"/>
<g transform="translate(633.00,296.50) rotate(0.0)">
<path d="M-2.85,0 V13.80 A2.85,1.25 0 0 0 2.85,13.80 V0 Z" fill="url(#gRod)"/>
<ellipse cx="0" cy="0" rx="2.85" ry="1.25" fill="#d4646a"/>
</g>
<path d="M703.70,321.40 c-2.2,1.7 -1.8,3.2 -0.1,4.3 c1.8,1.2 1.2,3.2 -0.3,4.9" class="ts"/>
<path d="M703.70,307.30 c-1.8,-3 1.4,-5 0.6,-8 c-0.5,-2 -0.3,-3.5 0.4,-4.5" class="ts"/>
<g transform="translate(703.70,307.30) rotate(0.0)">
<path d="M-2.85,0 V13.80 A2.85,1.25 0 0 0 2.85,13.80 V0 Z" fill="url(#gRod)"/>
<ellipse cx="0" cy="0" rx="2.85" ry="1.25" fill="#d4646a"/>
</g>
<path d="M715.80,321.40 c-2.2,1.7 -1.8,3.2 -0.1,4.3 c1.8,1.2 1.2,3.2 -0.3,4.9" class="ts"/>
<path d="M715.80,307.30 c-1.8,-3 1.4,-5 0.6,-8 c-0.5,-2 -0.3,-3.5 0.4,-4.5" class="ts"/>
<g transform="translate(715.80,307.30) rotate(0.0)">
<path d="M-2.85,0 V13.80 A2.85,1.25 0 0 0 2.85,13.80 V0 Z" fill="url(#gRod)"/>
<ellipse cx="0" cy="0" rx="2.85" ry="1.25" fill="#d4646a"/>
</g>
<path d="M727.80,321.40 c-2.2,1.7 -1.8,3.2 -0.1,4.3 c1.8,1.2 1.2,3.2 -0.3,4.9" class="ts"/>
<path d="M727.80,307.30 c-1.8,-3 1.4,-5 0.6,-8 c-0.5,-2 -0.3,-3.5 0.4,-4.5" class="ts"/>
<g transform="translate(727.80,307.30) rotate(0.0)">
<path d="M-2.85,0 V13.80 A2.85,1.25 0 0 0 2.85,13.80 V0 Z" fill="url(#gRod)"/>
<ellipse cx="0" cy="0" rx="2.85" ry="1.25" fill="#d4646a"/>
</g>
<path d="M597.40,322.00 c-2.2,1.7 -1.8,3.2 -0.1,4.3 c1.8,1.2 1.2,3.2 -0.3,4.9" class="ts"/>
<path d="M597.40,307.90 c-1.8,-3 1.4,-5 0.6,-8 c-0.5,-2 -0.3,-3.5 0.4,-4.5" class="ts"/>
<g transform="translate(597.40,307.90) rotate(0.0)">
<path d="M-2.85,0 V13.80 A2.85,1.25 0 0 0 2.85,13.80 V0 Z" fill="url(#gRod)"/>
<ellipse cx="0" cy="0" rx="2.85" ry="1.25" fill="#d4646a"/>
</g>
<path d="M609.60,322.00 c-2.2,1.7 -1.8,3.2 -0.1,4.3 c1.8,1.2 1.2,3.2 -0.3,4.9" class="ts"/>
<path d="M609.60,307.90 c-1.8,-3 1.4,-5 0.6,-8 c-0.5,-2 -0.3,-3.5 0.4,-4.5" class="ts"/>
<g transform="translate(609.60,307.90) rotate(0.0)">
<path d="M-2.85,0 V13.80 A2.85,1.25 0 0 0 2.85,13.80 V0 Z" fill="url(#gRod)"/>
<ellipse cx="0" cy="0" rx="2.85" ry="1.25" fill="#d4646a"/>
</g>
<path d="M621.80,322.00 c-2.2,1.7 -1.8,3.2 -0.1,4.3 c1.8,1.2 1.2,3.2 -0.3,4.9" class="ts"/>
<path d="M621.80,307.90 c-1.8,-3 1.4,-5 0.6,-8 c-0.5,-2 -0.3,-3.5 0.4,-4.5" class="ts"/>
<g transform="translate(621.80,307.90) rotate(0.0)">
<path d="M-2.85,0 V13.80 A2.85,1.25 0 0 0 2.85,13.80 V0 Z" fill="url(#gRod)"/>
<ellipse cx="0" cy="0" rx="2.85" ry="1.25" fill="#d4646a"/>
</g>
<path d="M645.76,321.76 c1.7,2 3.4,2.7 4.8,2.9 c1.2,0.3 1.7,2.4 1.8,4.2" class="ts"/>
<path d="M636.00,312.00 c-1,-2.5 -3.5,-3 -4.5,-5.5 c-0.8,-2 -0.6,-3.5 -1.6,-5.5" class="ts"/>
<g transform="translate(636.00,312.00) rotate(-45.0)">
<path d="M-2.85,0 V13.80 A2.85,1.25 0 0 0 2.85,13.80 V0 Z" fill="url(#gRod)"/>
<ellipse cx="0" cy="0" rx="2.85" ry="1.25" fill="#d4646a"/>
</g>
<path d="M657.76,322.26 c1.7,2 3.4,2.7 4.8,2.9 c1.2,0.3 1.7,2.4 1.8,4.2" class="ts"/>
<path d="M648.00,312.50 c-1,-2.5 -3.5,-3 -4.5,-5.5 c-0.8,-2 -0.6,-3.5 -1.6,-5.5" class="ts"/>
<g transform="translate(648.00,312.50) rotate(-45.0)">
<path d="M-2.85,0 V13.80 A2.85,1.25 0 0 0 2.85,13.80 V0 Z" fill="url(#gRod)"/>
<ellipse cx="0" cy="0" rx="2.85" ry="1.25" fill="#d4646a"/>
</g>
<path d="M669.76,322.76 c1.7,2 3.4,2.7 4.8,2.9 c1.2,0.3 1.7,2.4 1.8,4.2" class="ts"/>
<path d="M660.00,313.00 c-1,-2.5 -3.5,-3 -4.5,-5.5 c-0.8,-2 -0.6,-3.5 -1.6,-5.5" class="ts"/>
<g transform="translate(660.00,313.00) rotate(-45.0)">
<path d="M-2.85,0 V13.80 A2.85,1.25 0 0 0 2.85,13.80 V0 Z" fill="url(#gRod)"/>
<ellipse cx="0" cy="0" rx="2.85" ry="1.25" fill="#d4646a"/>
</g>
<path d="M587.80,334.40 c-2.2,1.7 -1.8,3.2 -0.1,4.3 c1.8,1.2 1.2,3.2 -0.3,4.9" class="ts"/>
<path d="M587.80,320.30 c-1.8,-3 1.4,-5 0.6,-8 c-0.5,-2 -0.3,-3.5 0.4,-4.5" class="ts"/>
<g transform="translate(587.80,320.30) rotate(0.0)">
<path d="M-2.85,0 V13.80 A2.85,1.25 0 0 0 2.85,13.80 V0 Z" fill="url(#gRod)"/>
<ellipse cx="0" cy="0" rx="2.85" ry="1.25" fill="#d4646a"/>
</g>
<path d="M600.00,334.40 c-2.2,1.7 -1.8,3.2 -0.1,4.3 c1.8,1.2 1.2,3.2 -0.3,4.9" class="ts"/>
<path d="M600.00,320.30 c-1.8,-3 1.4,-5 0.6,-8 c-0.5,-2 -0.3,-3.5 0.4,-4.5" class="ts"/>
<g transform="translate(600.00,320.30) rotate(0.0)">
<path d="M-2.85,0 V13.80 A2.85,1.25 0 0 0 2.85,13.80 V0 Z" fill="url(#gRod)"/>
<ellipse cx="0" cy="0" rx="2.85" ry="1.25" fill="#d4646a"/>
</g>
<path d="M612.30,334.40 c-2.2,1.7 -1.8,3.2 -0.1,4.3 c1.8,1.2 1.2,3.2 -0.3,4.9" class="ts"/>
<path d="M612.30,320.30 c-1.8,-3 1.4,-5 0.6,-8 c-0.5,-2 -0.3,-3.5 0.4,-4.5" class="ts"/>
<g transform="translate(612.30,320.30) rotate(0.0)">
<path d="M-2.85,0 V13.80 A2.85,1.25 0 0 0 2.85,13.80 V0 Z" fill="url(#gRod)"/>
<ellipse cx="0" cy="0" rx="2.85" ry="1.25" fill="#d4646a"/>
</g>
<path d="M694.00,334.50 c-2.2,1.7 -1.8,3.2 -0.1,4.3 c1.8,1.2 1.2,3.2 -0.3,4.9" class="ts"/>
<path d="M694.00,320.40 c-1.8,-3 1.4,-5 0.6,-8 c-0.5,-2 -0.3,-3.5 0.4,-4.5" class="ts"/>
<g transform="translate(694.00,320.40) rotate(0.0)">
<path d="M-2.85,0 V13.80 A2.85,1.25 0 0 0 2.85,13.80 V0 Z" fill="url(#gRod)"/>
<ellipse cx="0" cy="0" rx="2.85" ry="1.25" fill="#d4646a"/>
</g>
<path d="M706.00,334.50 c-2.2,1.7 -1.8,3.2 -0.1,4.3 c1.8,1.2 1.2,3.2 -0.3,4.9" class="ts"/>
<path d="M706.00,320.40 c-1.8,-3 1.4,-5 0.6,-8 c-0.5,-2 -0.3,-3.5 0.4,-4.5" class="ts"/>
<g transform="translate(706.00,320.40) rotate(0.0)">
<path d="M-2.85,0 V13.80 A2.85,1.25 0 0 0 2.85,13.80 V0 Z" fill="url(#gRod)"/>
<ellipse cx="0" cy="0" rx="2.85" ry="1.25" fill="#d4646a"/>
</g>
<path d="M718.00,334.50 c-2.2,1.7 -1.8,3.2 -0.1,4.3 c1.8,1.2 1.2,3.2 -0.3,4.9" class="ts"/>
<path d="M718.00,320.40 c-1.8,-3 1.4,-5 0.6,-8 c-0.5,-2 -0.3,-3.5 0.4,-4.5" class="ts"/>
<g transform="translate(718.00,320.40) rotate(0.0)">
<path d="M-2.85,0 V13.80 A2.85,1.25 0 0 0 2.85,13.80 V0 Z" fill="url(#gRod)"/>
<ellipse cx="0" cy="0" rx="2.85" ry="1.25" fill="#d4646a"/>
</g>
<path d="M635.96,333.26 c1.7,2 3.4,2.7 4.8,2.9 c1.2,0.3 1.7,2.4 1.8,4.2" class="ts"/>
<path d="M626.20,323.50 c-1,-2.5 -3.5,-3 -4.5,-5.5 c-0.8,-2 -0.6,-3.5 -1.6,-5.5" class="ts"/>
<g transform="translate(626.20,323.50) rotate(-45.0)">
<path d="M-2.85,0 V13.80 A2.85,1.25 0 0 0 2.85,13.80 V0 Z" fill="url(#gRod)"/>
<ellipse cx="0" cy="0" rx="2.85" ry="1.25" fill="#d4646a"/>
</g>
<path d="M647.76,333.76 c1.7,2 3.4,2.7 4.8,2.9 c1.2,0.3 1.7,2.4 1.8,4.2" class="ts"/>
<path d="M638.00,324.00 c-1,-2.5 -3.5,-3 -4.5,-5.5 c-0.8,-2 -0.6,-3.5 -1.6,-5.5" class="ts"/>
<g transform="translate(638.00,324.00) rotate(-45.0)">
<path d="M-2.85,0 V13.80 A2.85,1.25 0 0 0 2.85,13.80 V0 Z" fill="url(#gRod)"/>
<ellipse cx="0" cy="0" rx="2.85" ry="1.25" fill="#d4646a"/>
</g>
<path d="M659.76,334.26 c1.7,2 3.4,2.7 4.8,2.9 c1.2,0.3 1.7,2.4 1.8,4.2" class="ts"/>
<path d="M650.00,324.50 c-1,-2.5 -3.5,-3 -4.5,-5.5 c-0.8,-2 -0.6,-3.5 -1.6,-5.5" class="ts"/>
<g transform="translate(650.00,324.50) rotate(-45.0)">
<path d="M-2.85,0 V13.80 A2.85,1.25 0 0 0 2.85,13.80 V0 Z" fill="url(#gRod)"/>
<ellipse cx="0" cy="0" rx="2.85" ry="1.25" fill="#d4646a"/>
</g>
<path d="M681.20,345.10 c-2.2,1.7 -1.8,3.2 -0.1,4.3 c1.8,1.2 1.2,3.2 -0.3,4.9" class="ts"/>
<path d="M681.20,331.00 c-1.8,-3 1.4,-5 0.6,-8 c-0.5,-2 -0.3,-3.5 0.4,-4.5" class="ts"/>
<g transform="translate(681.20,331.00) rotate(0.0)">
<path d="M-2.85,0 V13.80 A2.85,1.25 0 0 0 2.85,13.80 V0 Z" fill="url(#gRod)"/>
<ellipse cx="0" cy="0" rx="2.85" ry="1.25" fill="#d4646a"/>
</g>
<path d="M693.70,345.10 c-2.2,1.7 -1.8,3.2 -0.1,4.3 c1.8,1.2 1.2,3.2 -0.3,4.9" class="ts"/>
<path d="M693.70,331.00 c-1.8,-3 1.4,-5 0.6,-8 c-0.5,-2 -0.3,-3.5 0.4,-4.5" class="ts"/>
<g transform="translate(693.70,331.00) rotate(0.0)">
<path d="M-2.85,0 V13.80 A2.85,1.25 0 0 0 2.85,13.80 V0 Z" fill="url(#gRod)"/>
<ellipse cx="0" cy="0" rx="2.85" ry="1.25" fill="#d4646a"/>
</g>
<path d="M705.50,345.10 c-2.2,1.7 -1.8,3.2 -0.1,4.3 c1.8,1.2 1.2,3.2 -0.3,4.9" class="ts"/>
<path d="M705.50,331.00 c-1.8,-3 1.4,-5 0.6,-8 c-0.5,-2 -0.3,-3.5 0.4,-4.5" class="ts"/>
<g transform="translate(705.50,331.00) rotate(0.0)">
<path d="M-2.85,0 V13.80 A2.85,1.25 0 0 0 2.85,13.80 V0 Z" fill="url(#gRod)"/>
<ellipse cx="0" cy="0" rx="2.85" ry="1.25" fill="#d4646a"/>
</g>
<path d="M575.20,345.40 c-2.2,1.7 -1.8,3.2 -0.1,4.3 c1.8,1.2 1.2,3.2 -0.3,4.9" class="ts"/>
<path d="M575.20,331.30 c-1.8,-3 1.4,-5 0.6,-8 c-0.5,-2 -0.3,-3.5 0.4,-4.5" class="ts"/>
<g transform="translate(575.20,331.30) rotate(0.0)">
<path d="M-2.85,0 V13.80 A2.85,1.25 0 0 0 2.85,13.80 V0 Z" fill="url(#gRod)"/>
<ellipse cx="0" cy="0" rx="2.85" ry="1.25" fill="#d4646a"/>
</g>
<path d="M587.40,345.40 c-2.2,1.7 -1.8,3.2 -0.1,4.3 c1.8,1.2 1.2,3.2 -0.3,4.9" class="ts"/>
<path d="M587.40,331.30 c-1.8,-3 1.4,-5 0.6,-8 c-0.5,-2 -0.3,-3.5 0.4,-4.5" class="ts"/>
<g transform="translate(587.40,331.30) rotate(0.0)">
<path d="M-2.85,0 V13.80 A2.85,1.25 0 0 0 2.85,13.80 V0 Z" fill="url(#gRod)"/>
<ellipse cx="0" cy="0" rx="2.85" ry="1.25" fill="#d4646a"/>
</g>
<path d="M599.70,345.40 c-2.2,1.7 -1.8,3.2 -0.1,4.3 c1.8,1.2 1.2,3.2 -0.3,4.9" class="ts"/>
<path d="M599.70,331.30 c-1.8,-3 1.4,-5 0.6,-8 c-0.5,-2 -0.3,-3.5 0.4,-4.5" class="ts"/>
<g transform="translate(599.70,331.30) rotate(0.0)">
<path d="M-2.85,0 V13.80 A2.85,1.25 0 0 0 2.85,13.80 V0 Z" fill="url(#gRod)"/>
<ellipse cx="0" cy="0" rx="2.85" ry="1.25" fill="#d4646a"/>
</g>
<path d="M625.96,344.51 c1.7,2 3.4,2.7 4.8,2.9 c1.2,0.3 1.7,2.4 1.8,4.2" class="ts"/>
<path d="M616.20,334.75 c-1,-2.5 -3.5,-3 -4.5,-5.5 c-0.8,-2 -0.6,-3.5 -1.6,-5.5" class="ts"/>
<g transform="translate(616.20,334.75) rotate(-45.0)">
<path d="M-2.85,0 V13.80 A2.85,1.25 0 0 0 2.85,13.80 V0 Z" fill="url(#gRod)"/>
<ellipse cx="0" cy="0" rx="2.85" ry="1.25" fill="#d4646a"/>
</g>
<path d="M637.76,345.16 c1.7,2 3.4,2.7 4.8,2.9 c1.2,0.3 1.7,2.4 1.8,4.2" class="ts"/>
<path d="M628.00,335.40 c-1,-2.5 -3.5,-3 -4.5,-5.5 c-0.8,-2 -0.6,-3.5 -1.6,-5.5" class="ts"/>
<g transform="translate(628.00,335.40) rotate(-45.0)">
<path d="M-2.85,0 V13.80 A2.85,1.25 0 0 0 2.85,13.80 V0 Z" fill="url(#gRod)"/>
<ellipse cx="0" cy="0" rx="2.85" ry="1.25" fill="#d4646a"/>
</g>
<path d="M649.06,345.76 c1.7,2 3.4,2.7 4.8,2.9 c1.2,0.3 1.7,2.4 1.8,4.2" class="ts"/>
<path d="M639.30,336.00 c-1,-2.5 -3.5,-3 -4.5,-5.5 c-0.8,-2 -0.6,-3.5 -1.6,-5.5" class="ts"/>
<g transform="translate(639.30,336.00) rotate(-45.0)">
<path d="M-2.85,0 V13.80 A2.85,1.25 0 0 0 2.85,13.80 V0 Z" fill="url(#gRod)"/>
<ellipse cx="0" cy="0" rx="2.85" ry="1.25" fill="#d4646a"/>
</g>
<text x="518.9" y="261.7" font-size="32">e)</text>
<path d="M574.3,250.1 H759" stroke="#4a86c8" stroke-width="2" stroke-dasharray="6.9 5.2" fill="none"/>
<g transform="translate(749.9,276.6) rotate(-60)"><ellipse cx="0.4" cy="1.1" rx="10.2" ry="5.4" fill="#e4ebf4" stroke="#555" stroke-width="0.3"/><ellipse rx="10.2" ry="5.4" fill="#365f91" stroke="#333" stroke-width="0.35"/></g>
<g transform="translate(661.9,265.6) rotate(-50)"><ellipse cx="0.4" cy="1.1" rx="10.2" ry="5.6" fill="#e4ebf4" stroke="#555" stroke-width="0.3"/><ellipse rx="10.2" ry="5.6" fill="#365f91" stroke="#333" stroke-width="0.35"/></g>
<g transform="translate(700.4,295.9) rotate(20)"><ellipse cx="0.4" cy="1.1" rx="10.2" ry="5.6" fill="#e4ebf4" stroke="#555" stroke-width="0.3"/><ellipse rx="10.2" ry="5.6" fill="#365f91" stroke="#333" stroke-width="0.35"/></g>
<g transform="translate(611.4,291.8) rotate(-30)"><ellipse cx="0.4" cy="1.1" rx="10.2" ry="5.6" fill="#e4ebf4" stroke="#555" stroke-width="0.3"/><ellipse rx="10.2" ry="5.6" fill="#365f91" stroke="#333" stroke-width="0.35"/></g>
<g transform="translate(631.3,289.0) rotate(-50)"><ellipse cx="0.4" cy="1.1" rx="10.2" ry="5.6" fill="#e4ebf4" stroke="#555" stroke-width="0.3"/><ellipse rx="10.2" ry="5.6" fill="#365f91" stroke="#333" stroke-width="0.35"/></g>
<g transform="translate(719.6,286.3) rotate(-70)"><ellipse cx="0.4" cy="1.1" rx="10.2" ry="5.6" fill="#e4ebf4" stroke="#555" stroke-width="0.3"/><ellipse rx="10.2" ry="5.6" fill="#365f91" stroke="#333" stroke-width="0.35"/></g>
<g transform="translate(575.6,292.5) rotate(-15)"><ellipse cx="0.4" cy="1.1" rx="10.2" ry="5.3" fill="#e4ebf4" stroke="#555" stroke-width="0.3"/><ellipse rx="10.2" ry="5.3" fill="#365f91" stroke="#333" stroke-width="0.35"/></g>
<g transform="translate(636.2,322.7) rotate(-20)"><ellipse cx="0.4" cy="1.1" rx="10.2" ry="6.0" fill="#e4ebf4" stroke="#555" stroke-width="0.3"/><ellipse rx="10.2" ry="6.0" fill="#365f91" stroke="#333" stroke-width="0.35"/></g>
<g transform="translate(685.3,279.4) rotate(20)"><ellipse cx="0.4" cy="1.1" rx="10.2" ry="5.6" fill="#e4ebf4" stroke="#555" stroke-width="0.3"/><ellipse rx="10.2" ry="5.6" fill="#365f91" stroke="#333" stroke-width="0.35"/></g>
<g transform="translate(614.1,302.8) rotate(-20)"><ellipse cx="0.4" cy="1.1" rx="10.2" ry="5.6" fill="#e4ebf4" stroke="#555" stroke-width="0.3"/><ellipse rx="10.2" ry="5.6" fill="#365f91" stroke="#333" stroke-width="0.35"/></g>
<g transform="translate(667.4,309.6) rotate(50)"><ellipse cx="0.4" cy="1.1" rx="10.2" ry="6.0" fill="#e4ebf4" stroke="#555" stroke-width="0.3"/><ellipse rx="10.2" ry="6.0" fill="#365f91" stroke="#333" stroke-width="0.35"/></g>
<g transform="translate(616.9,284.9) rotate(20)"><ellipse cx="0.4" cy="1.1" rx="10.2" ry="5.6" fill="#e4ebf4" stroke="#555" stroke-width="0.3"/><ellipse rx="10.2" ry="5.6" fill="#365f91" stroke="#333" stroke-width="0.35"/></g>
<g transform="translate(714.1,290.4) rotate(-70)"><ellipse cx="0.4" cy="1.1" rx="10.2" ry="6.0" fill="#e4ebf4" stroke="#555" stroke-width="0.3"/><ellipse rx="10.2" ry="6.0" fill="#365f91" stroke="#333" stroke-width="0.35"/></g>
<g transform="translate(645.8,322.0) rotate(30)"><ellipse cx="0.4" cy="1.1" rx="10.2" ry="5.6" fill="#e4ebf4" stroke="#555" stroke-width="0.3"/><ellipse rx="10.2" ry="5.6" fill="#365f91" stroke="#333" stroke-width="0.35"/></g>
<g transform="translate(600.4,298.0) rotate(20)"><ellipse cx="0.4" cy="1.1" rx="10.2" ry="5.6" fill="#e4ebf4" stroke="#555" stroke-width="0.3"/><ellipse rx="10.2" ry="5.6" fill="#365f91" stroke="#333" stroke-width="0.35"/></g>
<g transform="translate(627.2,269.8) rotate(20)"><ellipse cx="0.4" cy="1.1" rx="10.2" ry="5.6" fill="#e4ebf4" stroke="#555" stroke-width="0.3"/><ellipse rx="10.2" ry="5.6" fill="#365f91" stroke="#333" stroke-width="0.35"/></g>
<g transform="translate(643.0,308.3) rotate(-15)"><ellipse cx="0.4" cy="1.1" rx="10.2" ry="5.6" fill="#e4ebf4" stroke="#555" stroke-width="0.3"/><ellipse rx="10.2" ry="5.6" fill="#365f91" stroke="#333" stroke-width="0.35"/></g>
<g transform="translate(679.1,286.3) rotate(25)"><ellipse cx="0.4" cy="1.1" rx="10.2" ry="5.6" fill="#e4ebf4" stroke="#555" stroke-width="0.3"/><ellipse rx="10.2" ry="5.6" fill="#365f91" stroke="#333" stroke-width="0.35"/></g>
<g transform="translate(654.0,311.0) rotate(-30)"><ellipse cx="0.4" cy="1.1" rx="10.2" ry="5.6" fill="#e4ebf4" stroke="#555" stroke-width="0.3"/><ellipse rx="10.2" ry="5.6" fill="#365f91" stroke="#333" stroke-width="0.35"/></g>
<g transform="translate(591.0,271.1) rotate(-60)"><ellipse cx="0.4" cy="1.1" rx="10.2" ry="5.6" fill="#e4ebf4" stroke="#555" stroke-width="0.3"/><ellipse rx="10.2" ry="5.6" fill="#365f91" stroke="#333" stroke-width="0.35"/></g>
<g transform="translate(626.5,326.2) rotate(20)"><ellipse cx="0.4" cy="1.1" rx="10.2" ry="5.0" fill="#e4ebf4" stroke="#555" stroke-width="0.3"/><ellipse rx="10.2" ry="5.0" fill="#365f91" stroke="#333" stroke-width="0.35"/></g>
<g transform="translate(586.6,302.8) rotate(45)"><ellipse cx="0.4" cy="1.1" rx="10.2" ry="5.6" fill="#e4ebf4" stroke="#555" stroke-width="0.3"/><ellipse rx="10.2" ry="5.6" fill="#365f91" stroke="#333" stroke-width="0.35"/></g>
<g transform="translate(663.7,286.3) rotate(60)"><ellipse cx="0.4" cy="1.1" rx="10.2" ry="5.6" fill="#e4ebf4" stroke="#555" stroke-width="0.3"/><ellipse rx="10.2" ry="5.6" fill="#365f91" stroke="#333" stroke-width="0.35"/></g>
<g transform="translate(675.6,261.5) rotate(40)"><ellipse cx="0.4" cy="1.1" rx="10.2" ry="5.6" fill="#e4ebf4" stroke="#555" stroke-width="0.3"/><ellipse rx="10.2" ry="5.6" fill="#365f91" stroke="#333" stroke-width="0.35"/></g>
<g transform="translate(670.1,323.4) rotate(-50)"><ellipse cx="0.4" cy="1.1" rx="10.2" ry="5.6" fill="#e4ebf4" stroke="#555" stroke-width="0.3"/><ellipse rx="10.2" ry="5.6" fill="#365f91" stroke="#333" stroke-width="0.35"/></g>
<g transform="translate(736.2,276.6) rotate(70)"><ellipse cx="0.4" cy="1.1" rx="10.2" ry="5.2" fill="#e4ebf4" stroke="#555" stroke-width="0.3"/><ellipse rx="10.2" ry="5.2" fill="#365f91" stroke="#333" stroke-width="0.35"/></g>
<g transform="translate(711.4,305.5) rotate(-70)"><ellipse cx="0.4" cy="1.1" rx="10.2" ry="6.0" fill="#e4ebf4" stroke="#555" stroke-width="0.3"/><ellipse rx="10.2" ry="6.0" fill="#365f91" stroke="#333" stroke-width="0.35"/></g>
<g transform="translate(619.0,313.8) rotate(45)"><ellipse cx="0.4" cy="1.1" rx="10.2" ry="5.6" fill="#e4ebf4" stroke="#555" stroke-width="0.3"/><ellipse rx="10.2" ry="5.6" fill="#365f91" stroke="#333" stroke-width="0.35"/></g>
<g transform="translate(740.3,289.0) rotate(-15)"><ellipse cx="0.4" cy="1.1" rx="10.2" ry="5.6" fill="#e4ebf4" stroke="#555" stroke-width="0.3"/><ellipse rx="10.2" ry="5.6" fill="#365f91" stroke="#333" stroke-width="0.35"/></g>
<g transform="translate(625.2,302.1) rotate(-40)"><ellipse cx="0.4" cy="1.1" rx="10.2" ry="5.6" fill="#e4ebf4" stroke="#555" stroke-width="0.3"/><ellipse rx="10.2" ry="5.6" fill="#365f91" stroke="#333" stroke-width="0.35"/></g>
<g transform="translate(603.8,315.2) rotate(-50)"><ellipse cx="0.4" cy="1.1" rx="10.2" ry="5.6" fill="#e4ebf4" stroke="#555" stroke-width="0.3"/><ellipse rx="10.2" ry="5.6" fill="#365f91" stroke="#333" stroke-width="0.35"/></g>
<g transform="translate(599.0,264.3) rotate(40)"><ellipse cx="0.4" cy="1.1" rx="10.2" ry="5.6" fill="#e4ebf4" stroke="#555" stroke-width="0.3"/><ellipse rx="10.2" ry="5.6" fill="#365f91" stroke="#333" stroke-width="0.35"/></g>
<g transform="translate(683.9,311.0) rotate(40)"><ellipse cx="0.4" cy="1.1" rx="10.2" ry="5.6" fill="#e4ebf4" stroke="#555" stroke-width="0.3"/><ellipse rx="10.2" ry="5.6" fill="#365f91" stroke="#333" stroke-width="0.35"/></g>
<g transform="translate(649.9,268.4) rotate(70)"><ellipse cx="0.4" cy="1.1" rx="10.2" ry="6.0" fill="#e4ebf4" stroke="#555" stroke-width="0.3"/><ellipse rx="10.2" ry="6.0" fill="#365f91" stroke="#333" stroke-width="0.35"/></g>
<g transform="translate(696.3,311.0) rotate(30)"><ellipse cx="0.4" cy="1.1" rx="10.2" ry="5.6" fill="#e4ebf4" stroke="#555" stroke-width="0.3"/><ellipse rx="10.2" ry="5.6" fill="#365f91" stroke="#333" stroke-width="0.35"/></g>
<g transform="translate(640.3,295.9) rotate(-40)"><ellipse cx="0.4" cy="1.1" rx="10.2" ry="5.6" fill="#e4ebf4" stroke="#555" stroke-width="0.3"/><ellipse rx="10.2" ry="5.6" fill="#365f91" stroke="#333" stroke-width="0.35"/></g>
<g transform="translate(685.3,268.4) rotate(30)"><ellipse cx="0.4" cy="1.1" rx="10.2" ry="6.0" fill="#e4ebf4" stroke="#555" stroke-width="0.3"/><ellipse rx="10.2" ry="6.0" fill="#365f91" stroke="#333" stroke-width="0.35"/></g>
<g transform="translate(659.1,294.5) rotate(60)"><ellipse cx="0.4" cy="1.1" rx="10.2" ry="5.6" fill="#e4ebf4" stroke="#555" stroke-width="0.3"/><ellipse rx="10.2" ry="5.6" fill="#365f91" stroke="#333" stroke-width="0.35"/></g>
<g transform="translate(663.3,279.4) rotate(70)"><ellipse cx="0.4" cy="1.1" rx="10.2" ry="5.6" fill="#e4ebf4" stroke="#555" stroke-width="0.3"/><ellipse rx="10.2" ry="5.6" fill="#365f91" stroke="#333" stroke-width="0.35"/></g>
<g transform="translate(662.3,302.8) rotate(40)"><ellipse cx="0.4" cy="1.1" rx="10.2" ry="5.6" fill="#e4ebf4" stroke="#555" stroke-width="0.3"/><ellipse rx="10.2" ry="5.6" fill="#365f91" stroke="#333" stroke-width="0.35"/></g>
<g transform="translate(690.8,300.0) rotate(-30)"><ellipse cx="0.4" cy="1.1" rx="10.2" ry="6.0" fill="#e4ebf4" stroke="#555" stroke-width="0.3"/><ellipse rx="10.2" ry="6.0" fill="#365f91" stroke="#333" stroke-width="0.35"/></g>
<g transform="translate(603.1,276.6) rotate(-20)"><ellipse cx="0.4" cy="1.1" rx="10.2" ry="5.6" fill="#e4ebf4" stroke="#555" stroke-width="0.3"/><ellipse rx="10.2" ry="5.6" fill="#365f91" stroke="#333" stroke-width="0.35"/></g>
<g transform="translate(704.5,316.5) rotate(-40)"><ellipse cx="0.4" cy="1.1" rx="10.2" ry="5.6" fill="#e4ebf4" stroke="#555" stroke-width="0.3"/><ellipse rx="10.2" ry="5.6" fill="#365f91" stroke="#333" stroke-width="0.35"/></g>
<g transform="translate(697.6,284.9) rotate(-50)"><ellipse cx="0.4" cy="1.1" rx="10.2" ry="6.0" fill="#e4ebf4" stroke="#555" stroke-width="0.3"/><ellipse rx="10.2" ry="6.0" fill="#365f91" stroke="#333" stroke-width="0.35"/></g>
<g transform="translate(608.0,271.1) rotate(-40)"><ellipse cx="0.4" cy="1.1" rx="10.2" ry="6.5" fill="#e4ebf4" stroke="#555" stroke-width="0.3"/><ellipse rx="10.2" ry="6.5" fill="#365f91" stroke="#333" stroke-width="0.35"/></g>
<g transform="translate(730.0,312.4) rotate(-10)"><ellipse cx="0.4" cy="1.1" rx="10.2" ry="5.6" fill="#e4ebf4" stroke="#555" stroke-width="0.3"/><ellipse rx="10.2" ry="5.6" fill="#365f91" stroke="#333" stroke-width="0.35"/></g>
<g transform="translate(594.9,328.9) rotate(0)"><ellipse cx="0.4" cy="1.1" rx="10.2" ry="5.3" fill="#e4ebf4" stroke="#555" stroke-width="0.3"/><ellipse rx="10.2" ry="5.3" fill="#365f91" stroke="#333" stroke-width="0.35"/></g>
<g transform="translate(705.9,272.5) rotate(80)"><ellipse cx="0.4" cy="1.1" rx="10.2" ry="5.6" fill="#e4ebf4" stroke="#555" stroke-width="0.3"/><ellipse rx="10.2" ry="5.6" fill="#365f91" stroke="#333" stroke-width="0.35"/></g>
<g transform="translate(637.5,280.1) rotate(60)"><ellipse cx="0.4" cy="1.1" rx="10.2" ry="5.6" fill="#e4ebf4" stroke="#555" stroke-width="0.3"/><ellipse rx="10.2" ry="5.6" fill="#365f91" stroke="#333" stroke-width="0.35"/></g>
<g transform="translate(654.0,290.4) rotate(80)"><ellipse cx="0.4" cy="1.1" rx="10.2" ry="6.0" fill="#e4ebf4" stroke="#555" stroke-width="0.3"/><ellipse rx="10.2" ry="6.0" fill="#365f91" stroke="#333" stroke-width="0.35"/></g>
<g transform="translate(671.5,297.3) rotate(60)"><ellipse cx="0.4" cy="1.1" rx="10.2" ry="5.6" fill="#e4ebf4" stroke="#555" stroke-width="0.3"/><ellipse rx="10.2" ry="5.6" fill="#365f91" stroke="#333" stroke-width="0.35"/></g>
<g transform="translate(736.2,302.8) rotate(-25)"><ellipse cx="0.4" cy="1.1" rx="10.2" ry="5.6" fill="#e4ebf4" stroke="#555" stroke-width="0.3"/><ellipse rx="10.2" ry="5.6" fill="#365f91" stroke="#333" stroke-width="0.35"/></g>
<g transform="translate(725.8,271.1) rotate(85)"><ellipse cx="0.4" cy="1.1" rx="10.2" ry="5.6" fill="#e4ebf4" stroke="#555" stroke-width="0.3"/><ellipse rx="10.2" ry="5.6" fill="#365f91" stroke="#333" stroke-width="0.35"/></g>
<g transform="translate(592.1,312.4) rotate(10)"><ellipse cx="0.4" cy="1.1" rx="10.2" ry="5.0" fill="#e4ebf4" stroke="#555" stroke-width="0.3"/><ellipse rx="10.2" ry="5.0" fill="#365f91" stroke="#333" stroke-width="0.35"/></g>
<g transform="translate(723.8,323.4) rotate(-70)"><ellipse cx="0.4" cy="1.1" rx="10.2" ry="5.6" fill="#e4ebf4" stroke="#555" stroke-width="0.3"/><ellipse rx="10.2" ry="5.6" fill="#365f91" stroke="#333" stroke-width="0.35"/></g>
<g transform="translate(660.9,267.0) rotate(-40)"><ellipse cx="0.4" cy="1.1" rx="10.2" ry="5.6" fill="#e4ebf4" stroke="#555" stroke-width="0.3"/><ellipse rx="10.2" ry="5.6" fill="#365f91" stroke="#333" stroke-width="0.35"/></g>
<g transform="translate(657.8,313.8) rotate(-50)"><ellipse cx="0.4" cy="1.1" rx="10.2" ry="5.6" fill="#e4ebf4" stroke="#555" stroke-width="0.3"/><ellipse rx="10.2" ry="5.6" fill="#365f91" stroke="#333" stroke-width="0.35"/></g>
<g transform="translate(596.3,283.5) rotate(-30)"><ellipse cx="0.4" cy="1.1" rx="10.2" ry="5.6" fill="#e4ebf4" stroke="#555" stroke-width="0.3"/><ellipse rx="10.2" ry="5.6" fill="#365f91" stroke="#333" stroke-width="0.35"/></g>
<g transform="translate(610.0,278.7) rotate(30)"><ellipse cx="0.4" cy="1.1" rx="10.2" ry="5.6" fill="#e4ebf4" stroke="#555" stroke-width="0.3"/><ellipse rx="10.2" ry="5.6" fill="#365f91" stroke="#333" stroke-width="0.35"/></g>
<g transform="translate(690.8,327.5) rotate(5)"><ellipse cx="0.4" cy="1.1" rx="10.2" ry="5.3" fill="#e4ebf4" stroke="#555" stroke-width="0.3"/><ellipse rx="10.2" ry="5.3" fill="#365f91" stroke="#333" stroke-width="0.35"/></g>
<g transform="translate(675.6,272.5) rotate(10)"><ellipse cx="0.4" cy="1.1" rx="10.2" ry="5.6" fill="#e4ebf4" stroke="#555" stroke-width="0.3"/><ellipse rx="10.2" ry="5.6" fill="#365f91" stroke="#333" stroke-width="0.35"/></g>
<g transform="translate(710.0,326.2) rotate(5)"><ellipse cx="0.4" cy="1.1" rx="10.2" ry="5.3" fill="#e4ebf4" stroke="#555" stroke-width="0.3"/><ellipse rx="10.2" ry="5.3" fill="#365f91" stroke="#333" stroke-width="0.35"/></g>
<g transform="translate(721.0,300.0) rotate(-60)"><ellipse cx="0.4" cy="1.1" rx="10.2" ry="5.6" fill="#e4ebf4" stroke="#555" stroke-width="0.3"/><ellipse rx="10.2" ry="5.6" fill="#365f91" stroke="#333" stroke-width="0.35"/></g>
<!-- panel f -->
<polygon points="550.2,597.0 739.9,602.0 793.6,548.2 793.6,535.5" fill="#000" opacity="0.35" filter="url(#blur3)"/>
<rect x="550.2" y="596.0" width="188.7" height="6" fill="#000" opacity="0.35" filter="url(#blur3)"/>
<polygon points="549.20,584.30 739.90,584.30 795.60,529.50 604.90,529.50" fill="#969696" />
<polygon points="549.20,584.30 739.90,584.30 739.90,601.00 549.20,601.00" fill="#7f7f7f" />
<polygon points="739.90,584.30 795.60,529.50 795.60,545.40 739.90,601.00" fill="#696969" />
<polygon points="563.10,576.20 714.60,576.20 762.00,529.40 762.00,532.40 715.60,579.20 563.10,579.20" fill="#000" opacity="0.3" filter="url(#blur2)"/>
<polygon points="561.10,566.60 713.60,566.60 761.00,519.80 608.50,519.80" fill="url(#gOr)" />
<polygon points="612.00,566.60 662.90,566.60 710.30,519.80 659.40,519.80" fill="#fcdcc1" />
<polygon points="561.10,566.60 713.60,566.60 713.60,576.20 561.10,576.20" fill="#dc7620" />
<polygon points="612.00,566.60 662.90,566.60 662.90,576.20 612.00,576.20" fill="#fbd3b1" />
<polygon points="713.60,566.60 761.00,519.80 761.00,527.40 713.60,576.20" fill="#d9731c" />
<path d="M715.00,518.80 c-2.2,1.7 -1.8,3.2 -0.1,4.3 c1.8,1.2 1.2,3.2 -0.3,4.9" class="ts"/>
<path d="M715.00,504.70 c-1.8,-3 1.4,-5 0.6,-8 c-0.5,-2 -0.3,-3.5 0.4,-4.5" class="ts"/>
<g transform="translate(715.00,504.70) rotate(0.0)">
<path d="M-2.85,0 V13.80 A2.85,1.25 0 0 0 2.85,13.80 V0 Z" fill="url(#gRod)"/>
<ellipse cx="0" cy="0" rx="2.85" ry="1.25" fill="#d4646a"/>
</g>
<path d="M728.10,518.80 c-2.2,1.7 -1.8,3.2 -0.1,4.3 c1.8,1.2 1.2,3.2 -0.3,4.9" class="ts"/>
<path d="M728.10,504.70 c-1.8,-3 1.4,-5 0.6,-8 c-0.5,-2 -0.3,-3.5 0.4,-4.5" class="ts"/>
<g transform="translate(728.10,504.70) rotate(0.0)">
<path d="M-2.85,0 V13.80 A2.85,1.25 0 0 0 2.85,13.80 V0 Z" fill="url(#gRod)"/>
<ellipse cx="0" cy="0" rx="2.85" ry="1.25" fill="#d4646a"/>
</g>
<path d="M739.60,518.80 c-2.2,1.7 -1.8,3.2 -0.1,4.3 c1.8,1.2 1.2,3.2 -0.3,4.9" class="ts"/>
<path d="M739.60,504.70 c-1.8,-3 1.4,-5 0.6,-8 c-0.5,-2 -0.3,-3.5 0.4,-4.5" class="ts"/>
<g transform="translate(739.60,504.70) rotate(0.0)">
<path d="M-2.85,0 V13.80 A2.85,1.25 0 0 0 2.85,13.80 V0 Z" fill="url(#gRod)"/>
<ellipse cx="0" cy="0" rx="2.85" ry="1.25" fill="#d4646a"/>
</g>
<path d="M609.40,519.90 c-2.2,1.7 -1.8,3.2 -0.1,4.3 c1.8,1.2 1.2,3.2 -0.3,4.9" class="ts"/>
<path d="M609.40,505.80 c-1.8,-3 1.4,-5 0.6,-8 c-0.5,-2 -0.3,-3.5 0.4,-4.5" class="ts"/>
<g transform="translate(609.40,505.80) rotate(0.0)">
<path d="M-2.85,0 V13.80 A2.85,1.25 0 0 0 2.85,13.80 V0 Z" fill="url(#gRod)"/>
<ellipse cx="0" cy="0" rx="2.85" ry="1.25" fill="#d4646a"/>
</g>
<path d="M622.50,519.90 c-2.2,1.7 -1.8,3.2 -0.1,4.3 c1.8,1.2 1.2,3.2 -0.3,4.9" class="ts"/>
<path d="M622.50,505.80 c-1.8,-3 1.4,-5 0.6,-8 c-0.5,-2 -0.3,-3.5 0.4,-4.5" class="ts"/>
<g transform="translate(622.50,505.80) rotate(0.0)">
<path d="M-2.85,0 V13.80 A2.85,1.25 0 0 0 2.85,13.80 V0 Z" fill="url(#gRod)"/>
<ellipse cx="0" cy="0" rx="2.85" ry="1.25" fill="#d4646a"/>
</g>
<path d="M633.70,519.90 c-2.2,1.7 -1.8,3.2 -0.1,4.3 c1.8,1.2 1.2,3.2 -0.3,4.9" class="ts"/>
<path d="M633.70,505.80 c-1.8,-3 1.4,-5 0.6,-8 c-0.5,-2 -0.3,-3.5 0.4,-4.5" class="ts"/>
<g transform="translate(633.70,505.80) rotate(0.0)">
<path d="M-2.85,0 V13.80 A2.85,1.25 0 0 0 2.85,13.80 V0 Z" fill="url(#gRod)"/>
<ellipse cx="0" cy="0" rx="2.85" ry="1.25" fill="#d4646a"/>
</g>
<path d="M704.40,530.70 c-2.2,1.7 -1.8,3.2 -0.1,4.3 c1.8,1.2 1.2,3.2 -0.3,4.9" class="ts"/>
<path d="M704.40,516.60 c-1.8,-3 1.4,-5 0.6,-8 c-0.5,-2 -0.3,-3.5 0.4,-4.5" class="ts"/>
<g transform="translate(704.40,516.60) rotate(0.0)">
<path d="M-2.85,0 V13.80 A2.85,1.25 0 0 0 2.85,13.80 V0 Z" fill="url(#gRod)"/>
<ellipse cx="0" cy="0" rx="2.85" ry="1.25" fill="#d4646a"/>
</g>
<path d="M716.50,530.70 c-2.2,1.7 -1.8,3.2 -0.1,4.3 c1.8,1.2 1.2,3.2 -0.3,4.9" class="ts"/>
<path d="M716.50,516.60 c-1.8,-3 1.4,-5 0.6,-8 c-0.5,-2 -0.3,-3.5 0.4,-4.5" class="ts"/>
<g transform="translate(716.50,516.60) rotate(0.0)">
<path d="M-2.85,0 V13.80 A2.85,1.25 0 0 0 2.85,13.80 V0 Z" fill="url(#gRod)"/>
<ellipse cx="0" cy="0" rx="2.85" ry="1.25" fill="#d4646a"/>
</g>
<path d="M728.50,530.70 c-2.2,1.7 -1.8,3.2 -0.1,4.3 c1.8,1.2 1.2,3.2 -0.3,4.9" class="ts"/>
<path d="M728.50,516.60 c-1.8,-3 1.4,-5 0.6,-8 c-0.5,-2 -0.3,-3.5 0.4,-4.5" class="ts"/>
<g transform="translate(728.50,516.60) rotate(0.0)">
<path d="M-2.85,0 V13.80 A2.85,1.25 0 0 0 2.85,13.80 V0 Z" fill="url(#gRod)"/>
<ellipse cx="0" cy="0" rx="2.85" ry="1.25" fill="#d4646a"/>
</g>
<path d="M598.10,531.30 c-2.2,1.7 -1.8,3.2 -0.1,4.3 c1.8,1.2 1.2,3.2 -0.3,4.9" class="ts"/>
<path d="M598.10,517.20 c-1.8,-3 1.4,-5 0.6,-8 c-0.5,-2 -0.3,-3.5 0.4,-4.5" class="ts"/>
<g transform="translate(598.10,517.20) rotate(0.0)">
<path d="M-2.85,0 V13.80 A2.85,1.25 0 0 0 2.85,13.80 V0 Z" fill="url(#gRod)"/>
<ellipse cx="0" cy="0" rx="2.85" ry="1.25" fill="#d4646a"/>
</g>
<path d="M610.30,531.30 c-2.2,1.7 -1.8,3.2 -0.1,4.3 c1.8,1.2 1.2,3.2 -0.3,4.9" class="ts"/>
<path d="M610.30,517.20 c-1.8,-3 1.4,-5 0.6,-8 c-0.5,-2 -0.3,-3.5 0.4,-4.5" class="ts"/>
<g transform="translate(610.30,517.20) rotate(0.0)">
<path d="M-2.85,0 V13.80 A2.85,1.25 0 0 0 2.85,13.80 V0 Z" fill="url(#gRod)"/>
<ellipse cx="0" cy="0" rx="2.85" ry="1.25" fill="#d4646a"/>
</g>
<path d="M622.50,531.30 c-2.2,1.7 -1.8,3.2 -0.1,4.3 c1.8,1.2 1.2,3.2 -0.3,4.9" class="ts"/>
<path d="M622.50,517.20 c-1.8,-3 1.4,-5 0.6,-8 c-0.5,-2 -0.3,-3.5 0.4,-4.5" class="ts"/>
<g transform="translate(622.50,517.20) rotate(0.0)">
<path d="M-2.85,0 V13.80 A2.85,1.25 0 0 0 2.85,13.80 V0 Z" fill="url(#gRod)"/>
<ellipse cx="0" cy="0" rx="2.85" ry="1.25" fill="#d4646a"/>
</g>
<path d="M646.46,531.06 c1.7,2 3.4,2.7 4.8,2.9 c1.2,0.3 1.7,2.4 1.8,4.2" class="ts"/>
<path d="M636.70,521.30 c-1,-2.5 -3.5,-3 -4.5,-5.5 c-0.8,-2 -0.6,-3.5 -1.6,-5.5" class="ts"/>
<g transform="translate(636.70,521.30) rotate(-45.0)">
<path d="M-2.85,0 V13.80 A2.85,1.25 0 0 0 2.85,13.80 V0 Z" fill="url(#gRod)"/>
<ellipse cx="0" cy="0" rx="2.85" ry="1.25" fill="#d4646a"/>
</g>
<path d="M658.46,531.56 c1.7,2 3.4,2.7 4.8,2.9 c1.2,0.3 1.7,2.4 1.8,4.2" class="ts"/>
<path d="M648.70,521.80 c-1,-2.5 -3.5,-3 -4.5,-5.5 c-0.8,-2 -0.6,-3.5 -1.6,-5.5" class="ts"/>
<g transform="translate(648.70,521.80) rotate(-45.0)">
<path d="M-2.85,0 V13.80 A2.85,1.25 0 0 0 2.85,13.80 V0 Z" fill="url(#gRod)"/>
<ellipse cx="0" cy="0" rx="2.85" ry="1.25" fill="#d4646a"/>
</g>
<path d="M670.46,532.06 c1.7,2 3.4,2.7 4.8,2.9 c1.2,0.3 1.7,2.4 1.8,4.2" class="ts"/>
<path d="M660.70,522.30 c-1,-2.5 -3.5,-3 -4.5,-5.5 c-0.8,-2 -0.6,-3.5 -1.6,-5.5" class="ts"/>
<g transform="translate(660.70,522.30) rotate(-45.0)">
<path d="M-2.85,0 V13.80 A2.85,1.25 0 0 0 2.85,13.80 V0 Z" fill="url(#gRod)"/>
<ellipse cx="0" cy="0" rx="2.85" ry="1.25" fill="#d4646a"/>
</g>
<path d="M588.50,543.70 c-2.2,1.7 -1.8,3.2 -0.1,4.3 c1.8,1.2 1.2,3.2 -0.3,4.9" class="ts"/>
<path d="M588.50,529.60 c-1.8,-3 1.4,-5 0.6,-8 c-0.5,-2 -0.3,-3.5 0.4,-4.5" class="ts"/>
<g transform="translate(588.50,529.60) rotate(0.0)">
<path d="M-2.85,0 V13.80 A2.85,1.25 0 0 0 2.85,13.80 V0 Z" fill="url(#gRod)"/>
<ellipse cx="0" cy="0" rx="2.85" ry="1.25" fill="#d4646a"/>
</g>
<path d="M600.70,543.70 c-2.2,1.7 -1.8,3.2 -0.1,4.3 c1.8,1.2 1.2,3.2 -0.3,4.9" class="ts"/>
<path d="M600.70,529.60 c-1.8,-3 1.4,-5 0.6,-8 c-0.5,-2 -0.3,-3.5 0.4,-4.5" class="ts"/>
<g transform="translate(600.70,529.60) rotate(0.0)">
<path d="M-2.85,0 V13.80 A2.85,1.25 0 0 0 2.85,13.80 V0 Z" fill="url(#gRod)"/>
<ellipse cx="0" cy="0" rx="2.85" ry="1.25" fill="#d4646a"/>
</g>
<path d="M613.00,543.70 c-2.2,1.7 -1.8,3.2 -0.1,4.3 c1.8,1.2 1.2,3.2 -0.3,4.9" class="ts"/>
<path d="M613.00,529.60 c-1.8,-3 1.4,-5 0.6,-8 c-0.5,-2 -0.3,-3.5 0.4,-4.5" class="ts"/>
<g transform="translate(613.00,529.60) rotate(0.0)">
<path d="M-2.85,0 V13.80 A2.85,1.25 0 0 0 2.85,13.80 V0 Z" fill="url(#gRod)"/>
<ellipse cx="0" cy="0" rx="2.85" ry="1.25" fill="#d4646a"/>
</g>
<path d="M694.70,543.80 c-2.2,1.7 -1.8,3.2 -0.1,4.3 c1.8,1.2 1.2,3.2 -0.3,4.9" class="ts"/>
<path d="M694.70,529.70 c-1.8,-3 1.4,-5 0.6,-8 c-0.5,-2 -0.3,-3.5 0.4,-4.5" class="ts"/>
<g transform="translate(694.70,529.70) rotate(0.0)">
<path d="M-2.85,0 V13.80 A2.85,1.25 0 0 0 2.85,13.80 V0 Z" fill="url(#gRod)"/>
<ellipse cx="0" cy="0" rx="2.85" ry="1.25" fill="#d4646a"/>
</g>
<path d="M706.70,543.80 c-2.2,1.7 -1.8,3.2 -0.1,4.3 c1.8,1.2 1.2,3.2 -0.3,4.9" class="ts"/>
<path d="M706.70,529.70 c-1.8,-3 1.4,-5 0.6,-8 c-0.5,-2 -0.3,-3.5 0.4,-4.5" class="ts"/>
<g transform="translate(706.70,529.70) rotate(0.0)">
<path d="M-2.85,0 V13.80 A2.85,1.25 0 0 0 2.85,13.80 V0 Z" fill="url(#gRod)"/>
<ellipse cx="0" cy="0" rx="2.85" ry="1.25" fill="#d4646a"/>
</g>
<path d="M718.70,543.80 c-2.2,1.7 -1.8,3.2 -0.1,4.3 c1.8,1.2 1.2,3.2 -0.3,4.9" class="ts"/>
<path d="M718.70,529.70 c-1.8,-3 1.4,-5 0.6,-8 c-0.5,-2 -0.3,-3.5 0.4,-4.5" class="ts"/>
<g transform="translate(718.70,529.70) rotate(0.0)">
<path d="M-2.85,0 V13.80 A2.85,1.25 0 0 0 2.85,13.80 V0 Z" fill="url(#gRod)"/>
<ellipse cx="0" cy="0" rx="2.85" ry="1.25" fill="#d4646a"/>
</g>
<path d="M636.66,542.56 c1.7,2 3.4,2.7 4.8,2.9 c1.2,0.3 1.7,2.4 1.8,4.2" class="ts"/>
<path d="M626.90,532.80 c-1,-2.5 -3.5,-3 -4.5,-5.5 c-0.8,-2 -0.6,-3.5 -1.6,-5.5" class="ts"/>
<g transform="translate(626.90,532.80) rotate(-45.0)">
<path d="M-2.85,0 V13.80 A2.85,1.25 0 0 0 2.85,13.80 V0 Z" fill="url(#gRod)"/>
<ellipse cx="0" cy="0" rx="2.85" ry="1.25" fill="#d4646a"/>
</g>
<path d="M648.46,543.06 c1.7,2 3.4,2.7 4.8,2.9 c1.2,0.3 1.7,2.4 1.8,4.2" class="ts"/>
<path d="M638.70,533.30 c-1,-2.5 -3.5,-3 -4.5,-5.5 c-0.8,-2 -0.6,-3.5 -1.6,-5.5" class="ts"/>
<g transform="translate(638.70,533.30) rotate(-45.0)">
<path d="M-2.85,0 V13.80 A2.85,1.25 0 0 0 2.85,13.80 V0 Z" fill="url(#gRod)"/>
<ellipse cx="0" cy="0" rx="2.85" ry="1.25" fill="#d4646a"/>
</g>
<path d="M660.46,543.56 c1.7,2 3.4,2.7 4.8,2.9 c1.2,0.3 1.7,2.4 1.8,4.2" class="ts"/>
<path d="M650.70,533.80 c-1,-2.5 -3.5,-3 -4.5,-5.5 c-0.8,-2 -0.6,-3.5 -1.6,-5.5" class="ts"/>
<g transform="translate(650.70,533.80) rotate(-45.0)">
<path d="M-2.85,0 V13.80 A2.85,1.25 0 0 0 2.85,13.80 V0 Z" fill="url(#gRod)"/>
<ellipse cx="0" cy="0" rx="2.85" ry="1.25" fill="#d4646a"/>
</g>
<path d="M681.90,554.40 c-2.2,1.7 -1.8,3.2 -0.1,4.3 c1.8,1.2 1.2,3.2 -0.3,4.9" class="ts"/>
<path d="M681.90,540.30 c-1.8,-3 1.4,-5 0.6,-8 c-0.5,-2 -0.3,-3.5 0.4,-4.5" class="ts"/>
<g transform="translate(681.90,540.30) rotate(0.0)">
<path d="M-2.85,0 V13.80 A2.85,1.25 0 0 0 2.85,13.80 V0 Z" fill="url(#gRod)"/>
<ellipse cx="0" cy="0" rx="2.85" ry="1.25" fill="#d4646a"/>
</g>
<path d="M694.40,554.40 c-2.2,1.7 -1.8,3.2 -0.1,4.3 c1.8,1.2 1.2,3.2 -0.3,4.9" class="ts"/>
<path d="M694.40,540.30 c-1.8,-3 1.4,-5 0.6,-8 c-0.5,-2 -0.3,-3.5 0.4,-4.5" class="ts"/>
<g transform="translate(694.40,540.30) rotate(0.0)">
<path d="M-2.85,0 V13.80 A2.85,1.25 0 0 0 2.85,13.80 V0 Z" fill="url(#gRod)"/>
<ellipse cx="0" cy="0" rx="2.85" ry="1.25" fill="#d4646a"/>
</g>
<path d="M706.20,554.40 c-2.2,1.7 -1.8,3.2 -0.1,4.3 c1.8,1.2 1.2,3.2 -0.3,4.9" class="ts"/>
<path d="M706.20,540.30 c-1.8,-3 1.4,-5 0.6,-8 c-0.5,-2 -0.3,-3.5 0.4,-4.5" class="ts"/>
<g transform="translate(706.20,540.30) rotate(0.0)">
<path d="M-2.85,0 V13.80 A2.85,1.25 0 0 0 2.85,13.80 V0 Z" fill="url(#gRod)"/>
<ellipse cx="0" cy="0" rx="2.85" ry="1.25" fill="#d4646a"/>
</g>
<path d="M575.90,554.70 c-2.2,1.7 -1.8,3.2 -0.1,4.3 c1.8,1.2 1.2,3.2 -0.3,4.9" class="ts"/>
<path d="M575.90,540.60 c-1.8,-3 1.4,-5 0.6,-8 c-0.5,-2 -0.3,-3.5 0.4,-4.5" class="ts"/>
<g transform="translate(575.90,540.60) rotate(0.0)">
<path d="M-2.85,0 V13.80 A2.85,1.25 0 0 0 2.85,13.80 V0 Z" fill="url(#gRod)"/>
<ellipse cx="0" cy="0" rx="2.85" ry="1.25" fill="#d4646a"/>
</g>
<path d="M588.10,554.70 c-2.2,1.7 -1.8,3.2 -0.1,4.3 c1.8,1.2 1.2,3.2 -0.3,4.9" class="ts"/>
<path d="M588.10,540.60 c-1.8,-3 1.4,-5 0.6,-8 c-0.5,-2 -0.3,-3.5 0.4,-4.5" class="ts"/>
<g transform="translate(588.10,540.60) rotate(0.0)">
<path d="M-2.85,0 V13.80 A2.85,1.25 0 0 0 2.85,13.80 V0 Z" fill="url(#gRod)"/>
<ellipse cx="0" cy="0" rx="2.85" ry="1.25" fill="#d4646a"/>
</g>
<path d="M600.40,554.70 c-2.2,1.7 -1.8,3.2 -0.1,4.3 c1.8,1.2 1.2,3.2 -0.3,4.9" class="ts"/>
<path d="M600.40,540.60 c-1.8,-3 1.4,-5 0.6,-8 c-0.5,-2 -0.3,-3.5 0.4,-4.5" class="ts"/>
<g transform="translate(600.40,540.60) rotate(0.0)">
<path d="M-2.85,0 V13.80 A2.85,1.25 0 0 0 2.85,13.80 V0 Z" fill="url(#gRod)"/>
<ellipse cx="0" cy="0" rx="2.85" ry="1.25" fill="#d4646a"/>
</g>
<path d="M626.66,553.81 c1.7,2 3.4,2.7 4.8,2.9 c1.2,0.3 1.7,2.4 1.8,4.2" class="ts"/>
<path d="M616.90,544.05 c-1,-2.5 -3.5,-3 -4.5,-5.5 c-0.8,-2 -0.6,-3.5 -1.6,-5.5" class="ts"/>
<g transform="translate(616.90,544.05) rotate(-45.0)">
<path d="M-2.85,0 V13.80 A2.85,1.25 0 0 0 2.85,13.80 V0 Z" fill="url(#gRod)"/>
<ellipse cx="0" cy="0" rx="2.85" ry="1.25" fill="#d4646a"/>
</g>
<path d="M638.46,554.46 c1.7,2 3.4,2.7 4.8,2.9 c1.2,0.3 1.7,2.4 1.8,4.2" class="ts"/>
<path d="M628.70,544.70 c-1,-2.5 -3.5,-3 -4.5,-5.5 c-0.8,-2 -0.6,-3.5 -1.6,-5.5" class="ts"/>
<g transform="translate(628.70,544.70) rotate(-45.0)">
<path d="M-2.85,0 V13.80 A2.85,1.25 0 0 0 2.85,13.80 V0 Z" fill="url(#gRod)"/>
<ellipse cx="0" cy="0" rx="2.85" ry="1.25" fill="#d4646a"/>
</g>
<path d="M649.76,555.06 c1.7,2 3.4,2.7 4.8,2.9 c1.2,0.3 1.7,2.4 1.8,4.2" class="ts"/>
<path d="M640.00,545.30 c-1,-2.5 -3.5,-3 -4.5,-5.5 c-0.8,-2 -0.6,-3.5 -1.6,-5.5" class="ts"/>
<g transform="translate(640.00,545.30) rotate(-45.0)">
<path d="M-2.85,0 V13.80 A2.85,1.25 0 0 0 2.85,13.80 V0 Z" fill="url(#gRod)"/>
<ellipse cx="0" cy="0" rx="2.85" ry="1.25" fill="#d4646a"/>
</g>
<text x="519.3" y="467.3" font-size="32">f)</text>
<path d="M567.5,490 C580,495 590,494 600,486 C625,466 645,443 676,443 C707,443 724,469 738,484 C751,497 762,495 772.5,491" stroke="#365f91" stroke-width="2" stroke-dasharray="7 5" fill="none"/>
<g transform="translate(658.5,479.5) rotate(-60)">
<path d="M-10.20,0 V10.49 A10.20,4.50 0 0 0 10.20,10.49 V0 Z" fill="#365f91" stroke="#2a4a73" stroke-width="0.3"/>
<path class="wl" d="M-10.20,3.50 A10.20,4.50 0 0 0 10.20,3.50 M-10.20,7.00 A10.20,4.50 0 0 0 10.20,7.00 "/>
<ellipse cx="0" cy="0" rx="10.20" ry="4.50" fill="#365f91" stroke="#c9d6e6" stroke-width="0.6"/>
</g>
<g transform="translate(682.5,465.0) rotate(40)">
<path d="M-10.20,0 V22.26 A10.20,4.50 0 0 0 10.20,22.26 V0 Z" fill="#365f91" stroke="#2a4a73" stroke-width="0.3"/>
<path class="wl" d="M-10.20,3.71 A10.20,4.50 0 0 0 10.20,3.71 M-10.20,7.42 A10.20,4.50 0 0 0 10.20,7.42 M-10.20,11.13 A10.20,4.50 0 0 0 10.20,11.13 M-10.20,14.84 A10.20,4.50 0 0 0 10.20,14.84 M-10.20,18.55 A10.20,4.50 0 0 0 10.20,18.55 "/>
<ellipse cx="0" cy="0" rx="10.20" ry="4.50" fill="#365f91" stroke="#c9d6e6" stroke-width="0.6"/>
</g>
<g transform="translate(709.0,487.0) rotate(105)">
<path d="M-10.20,0 V26.71 A10.20,4.50 0 0 0 10.20,26.71 V0 Z" fill="#365f91" stroke="#2a4a73" stroke-width="0.3"/>
<path class="wl" d="M-10.20,4.45 A10.20,4.50 0 0 0 10.20,4.45 M-10.20,8.90 A10.20,4.50 0 0 0 10.20,8.90 M-10.20,13.36 A10.20,4.50 0 0 0 10.20,13.36 M-10.20,17.81 A10.20,4.50 0 0 0 10.20,17.81 M-10.20,22.26 A10.20,4.50 0 0 0 10.20,22.26 "/>
<ellipse cx="0" cy="0" rx="10.20" ry="4.50" fill="#365f91" stroke="#c9d6e6" stroke-width="0.6"/>
</g>
<g transform="translate(677.5,496.5) rotate(-40)">
<path d="M-10.20,0 V13.99 A10.20,4.50 0 0 0 10.20,13.99 V0 Z" fill="#365f91" stroke="#2a4a73" stroke-width="0.3"/>
<path class="wl" d="M-10.20,3.50 A10.20,4.50 0 0 0 10.20,3.50 M-10.20,7.00 A10.20,4.50 0 0 0 10.20,7.00 M-10.20,10.49 A10.20,4.50 0 0 0 10.20,10.49 "/>
<ellipse cx="0" cy="0" rx="10.20" ry="4.50" fill="#365f91" stroke="#c9d6e6" stroke-width="0.6"/>
</g>
<g transform="translate(653.5,499.0) rotate(20)">
<path d="M-10.20,0 V23.53 A10.20,4.50 0 0 0 10.20,23.53 V0 Z" fill="#365f91" stroke="#2a4a73" stroke-width="0.3"/>
<path class="wl" d="M-10.20,3.92 A10.20,4.50 0 0 0 10.20,3.92 M-10.20,7.84 A10.20,4.50 0 0 0 10.20,7.84 M-10.20,11.77 A10.20,4.50 0 0 0 10.20,11.77 M-10.20,15.69 A10.20,4.50 0 0 0 10.20,15.69 M-10.20,19.61 A10.20,4.50 0 0 0 10.20,19.61 "/>
<ellipse cx="0" cy="0" rx="10.20" ry="4.50" fill="#365f91" stroke="#c9d6e6" stroke-width="0.6"/>
</g>
<g transform="translate(668.5,508.5) rotate(-35)">
<path d="M-10.20,0 V14.84 A10.20,4.50 0 0 0 10.20,14.84 V0 Z" fill="#365f91" stroke="#2a4a73" stroke-width="0.3"/>
<path class="wl" d="M-10.20,3.71 A10.20,4.50 0 0 0 10.20,3.71 M-10.20,7.42 A10.20,4.50 0 0 0 10.20,7.42 M-10.20,11.13 A10.20,4.50 0 0 0 10.20,11.13 "/>
<ellipse cx="0" cy="0" rx="10.20" ry="4.50" fill="#365f91" stroke="#c9d6e6" stroke-width="0.6"/>
</g>
<g transform="translate(693.0,510.0) rotate(120)">
<path d="M-10.20,0 V12.72 A10.20,4.50 0 0 0 10.20,12.72 V0 Z" fill="#365f91" stroke="#2a4a73" stroke-width="0.3"/>
<path class="wl" d="M-10.20,3.18 A10.20,4.50 0 0 0 10.20,3.18 M-10.20,6.36 A10.20,4.50 0 0 0 10.20,6.36 M-10.20,9.54 A10.20,4.50 0 0 0 10.20,9.54 "/>
<ellipse cx="0" cy="0" rx="10.20" ry="4.50" fill="#365f91" stroke="#c9d6e6" stroke-width="0.6"/>
</g>
<g transform="translate(621.5,508.0) rotate(-80)">
<path d="M-10.20,0 V12.72 A10.20,4.50 0 0 0 10.20,12.72 V0 Z" fill="#365f91" stroke="#2a4a73" stroke-width="0.3"/>
<path class="wl" d="M-10.20,3.18 A10.20,4.50 0 0 0 10.20,3.18 M-10.20,6.36 A10.20,4.50 0 0 0 10.20,6.36 M-10.20,9.54 A10.20,4.50 0 0 0 10.20,9.54 "/>
<ellipse cx="0" cy="0" rx="10.20" ry="4.50" fill="#365f91" stroke="#c9d6e6" stroke-width="0.6"/>
</g>
<g transform="translate(602.5,516.0) rotate(45)">
<path d="M-10.20,0 V22.26 A10.20,4.50 0 0 0 10.20,22.26 V0 Z" fill="#365f91" stroke="#2a4a73" stroke-width="0.3"/>
<path class="wl" d="M-10.20,3.71 A10.20,4.50 0 0 0 10.20,3.71 M-10.20,7.42 A10.20,4.50 0 0 0 10.20,7.42 M-10.20,11.13 A10.20,4.50 0 0 0 10.20,11.13 M-10.20,14.84 A10.20,4.50 0 0 0 10.20,14.84 M-10.20,18.55 A10.20,4.50 0 0 0 10.20,18.55 "/>
<ellipse cx="0" cy="0" rx="10.20" ry="4.50" fill="#365f91" stroke="#c9d6e6" stroke-width="0.6"/>
</g>
<g transform="translate(745.0,520.0) rotate(107)">
<path d="M-10.20,0 V26.71 A10.20,4.50 0 0 0 10.20,26.71 V0 Z" fill="#365f91" stroke="#2a4a73" stroke-width="0.3"/>
<path class="wl" d="M-10.20,3.82 A10.20,4.50 0 0 0 10.20,3.82 M-10.20,7.63 A10.20,4.50 0 0 0 10.20,7.63 M-10.20,11.45 A10.20,4.50 0 0 0 10.20,11.45 M-10.20,15.26 A10.20,4.50 0 0 0 10.20,15.26 M-10.20,19.08 A10.20,4.50 0 0 0 10.20,19.08 M-10.20,22.90 A10.20,4.50 0 0 0 10.20,22.90 "/>
<ellipse cx="0" cy="0" rx="10.20" ry="4.50" fill="#365f91" stroke="#c9d6e6" stroke-width="0.6"/>
</g>
<g transform="translate(617.5,526.0) rotate(0)">
<path d="M-10.20,0 V12.72 A10.20,4.50 0 0 0 10.20,12.72 V0 Z" fill="#365f91" stroke="#2a4a73" stroke-width="0.3"/>
<path class="wl" d="M-10.20,3.18 A10.20,4.50 0 0 0 10.20,3.18 M-10.20,6.36 A10.20,4.50 0 0 0 10.20,6.36 M-10.20,9.54 A10.20,4.50 0 0 0 10.20,9.54 "/>
<ellipse cx="0" cy="0" rx="10.20" ry="4.50" fill="#365f91" stroke="#c9d6e6" stroke-width="0.6"/>
</g>
<g transform="translate(660.0,522.5) rotate(5)">
<path d="M-10.20,0 V9.54 A10.20,4.50 0 0 0 10.20,9.54 V0 Z" fill="#365f91" stroke="#2a4a73" stroke-width="0.3"/>
<path class="wl" d="M-10.20,3.18 A10.20,4.50 0 0 0 10.20,3.18 M-10.20,6.36 A10.20,4.50 0 0 0 10.20,6.36 "/>
<ellipse cx="0" cy="0" rx="10.20" ry="4.50" fill="#365f91" stroke="#c9d6e6" stroke-width="0.6"/>
</g>
<g transform="translate(641.5,534.0) rotate(-85)">
<path d="M-10.20,0 V12.72 A10.20,4.50 0 0 0 10.20,12.72 V0 Z" fill="#365f91" stroke="#2a4a73" stroke-width="0.3"/>
<path class="wl" d="M-10.20,3.18 A10.20,4.50 0 0 0 10.20,3.18 M-10.20,6.36 A10.20,4.50 0 0 0 10.20,6.36 M-10.20,9.54 A10.20,4.50 0 0 0 10.20,9.54 "/>
<ellipse cx="0" cy="0" rx="10.20" ry="4.50" fill="#365f91" stroke="#c9d6e6" stroke-width="0.6"/>
</g>
<g transform="translate(685.0,522.5) rotate(25)">
<path d="M-10.20,0 V22.26 A10.20,4.50 0 0 0 10.20,22.26 V0 Z" fill="#365f91" stroke="#2a4a73" stroke-width="0.3"/>
<path class="wl" d="M-10.20,3.71 A10.20,4.50 0 0 0 10.20,3.71 M-10.20,7.42 A10.20,4.50 0 0 0 10.20,7.42 M-10.20,11.13 A10.20,4.50 0 0 0 10.20,11.13 M-10.20,14.84 A10.20,4.50 0 0 0 10.20,14.84 M-10.20,18.55 A10.20,4.50 0 0 0 10.20,18.55 "/>
<ellipse cx="0" cy="0" rx="10.20" ry="4.50" fill="#365f91" stroke="#c9d6e6" stroke-width="0.6"/>
</g>
<g transform="translate(708.8,527.5) rotate(0)">
<path d="M-10.20,0 V10.49 A10.20,4.50 0 0 0 10.20,10.49 V0 Z" fill="#365f91" stroke="#2a4a73" stroke-width="0.3"/>
<path class="wl" d="M-10.20,3.50 A10.20,4.50 0 0 0 10.20,3.50 M-10.20,7.00 A10.20,4.50 0 0 0 10.20,7.00 "/>
<ellipse cx="0" cy="0" rx="10.20" ry="4.50" fill="#365f91" stroke="#c9d6e6" stroke-width="0.6"/>
</g>
<g transform="translate(727.0,545.0) rotate(-110)">
<path d="M-10.20,0 V12.72 A10.20,4.50 0 0 0 10.20,12.72 V0 Z" fill="#365f91" stroke="#2a4a73" stroke-width="0.3"/>
<path class="wl" d="M-10.20,3.18 A10.20,4.50 0 0 0 10.20,3.18 M-10.20,6.36 A10.20,4.50 0 0 0 10.20,6.36 M-10.20,9.54 A10.20,4.50 0 0 0 10.20,9.54 "/>
<ellipse cx="0" cy="0" rx="10.20" ry="4.50" fill="#365f91" stroke="#c9d6e6" stroke-width="0.6"/>
</g>
<!-- panel g -->
<polygon points="550.2,809.2 739.9,814.2 793.6,760.4 793.6,747.7" fill="#000" opacity="0.35" filter="url(#blur3)"/>
<rect x="550.2" y="808.2" width="188.7" height="6" fill="#000" opacity="0.35" filter="url(#blur3)"/>
<polygon points="549.20,796.50 739.90,796.50 795.60,741.70 604.90,741.70" fill="#969696" />
<polygon points="549.20,796.50 739.90,796.50 739.90,813.20 549.20,813.20" fill="#7f7f7f" />
<polygon points="739.90,796.50 795.60,741.70 795.60,757.60 739.90,813.20" fill="#696969" />
<polygon points="563.10,788.40 714.60,788.40 762.00,741.60 762.00,744.60 715.60,791.40 563.10,791.40" fill="#000" opacity="0.3" filter="url(#blur2)"/>
<polygon points="561.10,778.80 713.60,778.80 761.00,732.00 608.50,732.00" fill="url(#gOr)" />
<polygon points="612.00,778.80 662.90,778.80 710.30,732.00 659.40,732.00" fill="#fcdcc1" />
<polygon points="561.10,778.80 713.60,778.80 713.60,788.40 561.10,788.40" fill="#dc7620" />
<polygon points="612.00,778.80 662.90,778.80 662.90,788.40 612.00,788.40" fill="#fbd3b1" />
<polygon points="713.60,778.80 761.00,732.00 761.00,739.60 713.60,788.40" fill="#d9731c" />
<path d="M715.00,731.00 c-2.2,1.7 -1.8,3.2 -0.1,4.3 c1.8,1.2 1.2,3.2 -0.3,4.9" class="ts"/>
<path d="M715.00,716.90 c-1.8,-3 1.4,-5 0.6,-8 c-0.5,-2 -0.3,-3.5 0.4,-4.5" class="ts"/>
<g transform="translate(715.00,716.90) rotate(0.0)">
<path d="M-2.85,0 V13.80 A2.85,1.25 0 0 0 2.85,13.80 V0 Z" fill="url(#gRod)"/>
<ellipse cx="0" cy="0" rx="2.85" ry="1.25" fill="#d4646a"/>
</g>
<path d="M728.10,731.00 c-2.2,1.7 -1.8,3.2 -0.1,4.3 c1.8,1.2 1.2,3.2 -0.3,4.9" class="ts"/>
<path d="M728.10,716.90 c-1.8,-3 1.4,-5 0.6,-8 c-0.5,-2 -0.3,-3.5 0.4,-4.5" class="ts"/>
<g transform="translate(728.10,716.90) rotate(0.0)">
<path d="M-2.85,0 V13.80 A2.85,1.25 0 0 0 2.85,13.80 V0 Z" fill="url(#gRod)"/>
<ellipse cx="0" cy="0" rx="2.85" ry="1.25" fill="#d4646a"/>
</g>
<path d="M739.60,731.00 c-2.2,1.7 -1.8,3.2 -0.1,4.3 c1.8,1.2 1.2,3.2 -0.3,4.9" class="ts"/>
<path d="M739.60,716.90 c-1.8,-3 1.4,-5 0.6,-8 c-0.5,-2 -0.3,-3.5 0.4,-4.5" class="ts"/>
<g transform="translate(739.60,716.90) rotate(0.0)">
<path d="M-2.85,0 V13.80 A2.85,1.25 0 0 0 2.85,13.80 V0 Z" fill="url(#gRod)"/>
<ellipse cx="0" cy="0" rx="2.85" ry="1.25" fill="#d4646a"/>
</g>
<path d="M609.40,732.10 c-2.2,1.7 -1.8,3.2 -0.1,4.3 c1.8,1.2 1.2,3.2 -0.3,4.9" class="ts"/>
<path d="M609.40,718.00 c-1.8,-3 1.4,-5 0.6,-8 c-0.5,-2 -0.3,-3.5 0.4,-4.5" class="ts"/>
<g transform="translate(609.40,718.00) rotate(0.0)">
<path d="M-2.85,0 V13.80 A2.85,1.25 0 0 0 2.85,13.80 V0 Z" fill="url(#gRod)"/>
<ellipse cx="0" cy="0" rx="2.85" ry="1.25" fill="#d4646a"/>
</g>
<path d="M622.50,732.10 c-2.2,1.7 -1.8,3.2 -0.1,4.3 c1.8,1.2 1.2,3.2 -0.3,4.9" class="ts"/>
<path d="M622.50,718.00 c-1.8,-3 1.4,-5 0.6,-8 c-0.5,-2 -0.3,-3.5 0.4,-4.5" class="ts"/>
<g transform="translate(622.50,718.00) rotate(0.0)">
<path d="M-2.85,0 V13.80 A2.85,1.25 0 0 0 2.85,13.80 V0 Z" fill="url(#gRod)"/>
<ellipse cx="0" cy="0" rx="2.85" ry="1.25" fill="#d4646a"/>
</g>
<path d="M633.70,732.10 c-2.2,1.7 -1.8,3.2 -0.1,4.3 c1.8,1.2 1.2,3.2 -0.3,4.9" class="ts"/>
<path d="M633.70,718.00 c-1.8,-3 1.4,-5 0.6,-8 c-0.5,-2 -0.3,-3.5 0.4,-4.5" class="ts"/>
<g transform="translate(633.70,718.00) rotate(0.0)">
<path d="M-2.85,0 V13.80 A2.85,1.25 0 0 0 2.85,13.80 V0 Z" fill="url(#gRod)"/>
<ellipse cx="0" cy="0" rx="2.85" ry="1.25" fill="#d4646a"/>
</g>
<path d="M704.40,742.90 c-2.2,1.7 -1.8,3.2 -0.1,4.3 c1.8,1.2 1.2,3.2 -0.3,4.9" class="ts"/>
<path d="M704.40,728.80 c-1.8,-3 1.4,-5 0.6,-8 c-0.5,-2 -0.3,-3.5 0.4,-4.5" class="ts"/>
<g transform="translate(704.40,728.80) rotate(0.0)">
<path d="M-2.85,0 V13.80 A2.85,1.25 0 0 0 2.85,13.80 V0 Z" fill="url(#gRod)"/>
<ellipse cx="0" cy="0" rx="2.85" ry="1.25" fill="#d4646a"/>
</g>
<path d="M716.50,742.90 c-2.2,1.7 -1.8,3.2 -0.1,4.3 c1.8,1.2 1.2,3.2 -0.3,4.9" class="ts"/>
<path d="M716.50,728.80 c-1.8,-3 1.4,-5 0.6,-8 c-0.5,-2 -0.3,-3.5 0.4,-4.5" class="ts"/>
<g transform="translate(716.50,728.80) rotate(0.0)">
<path d="M-2.85,0 V13.80 A2.85,1.25 0 0 0 2.85,13.80 V0 Z" fill="url(#gRod)"/>
<ellipse cx="0" cy="0" rx="2.85" ry="1.25" fill="#d4646a"/>
</g>
<path d="M728.50,742.90 c-2.2,1.7 -1.8,3.2 -0.1,4.3 c1.8,1.2 1.2,3.2 -0.3,4.9" class="ts"/>
<path d="M728.50,728.80 c-1.8,-3 1.4,-5 0.6,-8 c-0.5,-2 -0.3,-3.5 0.4,-4.5" class="ts"/>
<g transform="translate(728.50,728.80) rotate(0.0)">
<path d="M-2.85,0 V13.80 A2.85,1.25 0 0 0 2.85,13.80 V0 Z" fill="url(#gRod)"/>
<ellipse cx="0" cy="0" rx="2.85" ry="1.25" fill="#d4646a"/>
</g>
<path d="M598.10,743.50 c-2.2,1.7 -1.8,3.2 -0.1,4.3 c1.8,1.2 1.2,3.2 -0.3,4.9" class="ts"/>
<path d="M598.10,729.40 c-1.8,-3 1.4,-5 0.6,-8 c-0.5,-2 -0.3,-3.5 0.4,-4.5" class="ts"/>
<g transform="translate(598.10,729.40) rotate(0.0)">
<path d="M-2.85,0 V13.80 A2.85,1.25 0 0 0 2.85,13.80 V0 Z" fill="url(#gRod)"/>
<ellipse cx="0" cy="0" rx="2.85" ry="1.25" fill="#d4646a"/>
</g>
<path d="M610.30,743.50 c-2.2,1.7 -1.8,3.2 -0.1,4.3 c1.8,1.2 1.2,3.2 -0.3,4.9" class="ts"/>
<path d="M610.30,729.40 c-1.8,-3 1.4,-5 0.6,-8 c-0.5,-2 -0.3,-3.5 0.4,-4.5" class="ts"/>
<g transform="translate(610.30,729.40) rotate(0.0)">
<path d="M-2.85,0 V13.80 A2.85,1.25 0 0 0 2.85,13.80 V0 Z" fill="url(#gRod)"/>
<ellipse cx="0" cy="0" rx="2.85" ry="1.25" fill="#d4646a"/>
</g>
<path d="M622.50,743.50 c-2.2,1.7 -1.8,3.2 -0.1,4.3 c1.8,1.2 1.2,3.2 -0.3,4.9" class="ts"/>
<path d="M622.50,729.40 c-1.8,-3 1.4,-5 0.6,-8 c-0.5,-2 -0.3,-3.5 0.4,-4.5" class="ts"/>
<g transform="translate(622.50,729.40) rotate(0.0)">
<path d="M-2.85,0 V13.80 A2.85,1.25 0 0 0 2.85,13.80 V0 Z" fill="url(#gRod)"/>
<ellipse cx="0" cy="0" rx="2.85" ry="1.25" fill="#d4646a"/>
</g>
<path d="M646.46,743.26 c1.7,2 3.4,2.7 4.8,2.9 c1.2,0.3 1.7,2.4 1.8,4.2" class="ts"/>
<path d="M636.70,733.50 c-1,-2.5 -3.5,-3 -4.5,-5.5 c-0.8,-2 -0.6,-3.5 -1.6,-5.5" class="ts"/>
<g transform="translate(636.70,733.50) rotate(-45.0)">
<path d="M-2.85,0 V13.80 A2.85,1.25 0 0 0 2.85,13.80 V0 Z" fill="url(#gRod)"/>
<ellipse cx="0" cy="0" rx="2.85" ry="1.25" fill="#d4646a"/>
</g>
<path d="M658.46,743.76 c1.7,2 3.4,2.7 4.8,2.9 c1.2,0.3 1.7,2.4 1.8,4.2" class="ts"/>
<path d="M648.70,734.00 c-1,-2.5 -3.5,-3 -4.5,-5.5 c-0.8,-2 -0.6,-3.5 -1.6,-5.5" class="ts"/>
<g transform="translate(648.70,734.00) rotate(-45.0)">
<path d="M-2.85,0 V13.80 A2.85,1.25 0 0 0 2.85,13.80 V0 Z" fill="url(#gRod)"/>
<ellipse cx="0" cy="0" rx="2.85" ry="1.25" fill="#d4646a"/>
</g>
<path d="M670.46,744.26 c1.7,2 3.4,2.7 4.8,2.9 c1.2,0.3 1.7,2.4 1.8,4.2" class="ts"/>
<path d="M660.70,734.50 c-1,-2.5 -3.5,-3 -4.5,-5.5 c-0.8,-2 -0.6,-3.5 -1.6,-5.5" class="ts"/>
<g transform="translate(660.70,734.50) rotate(-45.0)">
<path d="M-2.85,0 V13.80 A2.85,1.25 0 0 0 2.85,13.80 V0 Z" fill="url(#gRod)"/>
<ellipse cx="0" cy="0" rx="2.85" ry="1.25" fill="#d4646a"/>
</g>
<path d="M588.50,755.90 c-2.2,1.7 -1.8,3.2 -0.1,4.3 c1.8,1.2 1.2,3.2 -0.3,4.9" class="ts"/>
<path d="M588.50,741.80 c-1.8,-3 1.4,-5 0.6,-8 c-0.5,-2 -0.3,-3.5 0.4,-4.5" class="ts"/>
<g transform="translate(588.50,741.80) rotate(0.0)">
<path d="M-2.85,0 V13.80 A2.85,1.25 0 0 0 2.85,13.80 V0 Z" fill="url(#gRod)"/>
<ellipse cx="0" cy="0" rx="2.85" ry="1.25" fill="#d4646a"/>
</g>
<path d="M600.70,755.90 c-2.2,1.7 -1.8,3.2 -0.1,4.3 c1.8,1.2 1.2,3.2 -0.3,4.9" class="ts"/>
<path d="M600.70,741.80 c-1.8,-3 1.4,-5 0.6,-8 c-0.5,-2 -0.3,-3.5 0.4,-4.5" class="ts"/>
<g transform="translate(600.70,741.80) rotate(0.0)">
<path d="M-2.85,0 V13.80 A2.85,1.25 0 0 0 2.85,13.80 V0 Z" fill="url(#gRod)"/>
<ellipse cx="0" cy="0" rx="2.85" ry="1.25" fill="#d4646a"/>
</g>
<path d="M613.00,755.90 c-2.2,1.7 -1.8,3.2 -0.1,4.3 c1.8,1.2 1.2,3.2 -0.3,4.9" class="ts"/>
<path d="M613.00,741.80 c-1.8,-3 1.4,-5 0.6,-8 c-0.5,-2 -0.3,-3.5 0.4,-4.5" class="ts"/>
<g transform="translate(613.00,741.80) rotate(0.0)">
<path d="M-2.85,0 V13.80 A2.85,1.25 0 0 0 2.85,13.80 V0 Z" fill="url(#gRod)"/>
<ellipse cx="0" cy="0" rx="2.85" ry="1.25" fill="#d4646a"/>
</g>
<path d="M694.70,756.00 c-2.2,1.7 -1.8,3.2 -0.1,4.3 c1.8,1.2 1.2,3.2 -0.3,4.9" class="ts"/>
<path d="M694.70,741.90 c-1.8,-3 1.4,-5 0.6,-8 c-0.5,-2 -0.3,-3.5 0.4,-4.5" class="ts"/>
<g transform="translate(694.70,741.90) rotate(0.0)">
<path d="M-2.85,0 V13.80 A2.85,1.25 0 0 0 2.85,13.80 V0 Z" fill="url(#gRod)"/>
<ellipse cx="0" cy="0" rx="2.85" ry="1.25" fill="#d4646a"/>
</g>
<path d="M706.70,756.00 c-2.2,1.7 -1.8,3.2 -0.1,4.3 c1.8,1.2 1.2,3.2 -0.3,4.9" class="ts"/>
<path d="M706.70,741.90 c-1.8,-3 1.4,-5 0.6,-8 c-0.5,-2 -0.3,-3.5 0.4,-4.5" class="ts"/>
<g transform="translate(706.70,741.90) rotate(0.0)">
<path d="M-2.85,0 V13.80 A2.85,1.25 0 0 0 2.85,13.80 V0 Z" fill="url(#gRod)"/>
<ellipse cx="0" cy="0" rx="2.85" ry="1.25" fill="#d4646a"/>
</g>
<path d="M718.70,756.00 c-2.2,1.7 -1.8,3.2 -0.1,4.3 c1.8,1.2 1.2,3.2 -0.3,4.9" class="ts"/>
<path d="M718.70,741.90 c-1.8,-3 1.4,-5 0.6,-8 c-0.5,-2 -0.3,-3.5 0.4,-4.5" class="ts"/>
<g transform="translate(718.70,741.90) rotate(0.0)">
<path d="M-2.85,0 V13.80 A2.85,1.25 0 0 0 2.85,13.80 V0 Z" fill="url(#gRod)"/>
<ellipse cx="0" cy="0" rx="2.85" ry="1.25" fill="#d4646a"/>
</g>
<path d="M636.66,754.76 c1.7,2 3.4,2.7 4.8,2.9 c1.2,0.3 1.7,2.4 1.8,4.2" class="ts"/>
<path d="M626.90,745.00 c-1,-2.5 -3.5,-3 -4.5,-5.5 c-0.8,-2 -0.6,-3.5 -1.6,-5.5" class="ts"/>
<g transform="translate(626.90,745.00) rotate(-45.0)">
<path d="M-2.85,0 V13.80 A2.85,1.25 0 0 0 2.85,13.80 V0 Z" fill="url(#gRod)"/>
<ellipse cx="0" cy="0" rx="2.85" ry="1.25" fill="#d4646a"/>
</g>
<path d="M648.46,755.26 c1.7,2 3.4,2.7 4.8,2.9 c1.2,0.3 1.7,2.4 1.8,4.2" class="ts"/>
<path d="M638.70,745.50 c-1,-2.5 -3.5,-3 -4.5,-5.5 c-0.8,-2 -0.6,-3.5 -1.6,-5.5" class="ts"/>
<g transform="translate(638.70,745.50) rotate(-45.0)">
<path d="M-2.85,0 V13.80 A2.85,1.25 0 0 0 2.85,13.80 V0 Z" fill="url(#gRod)"/>
<ellipse cx="0" cy="0" rx="2.85" ry="1.25" fill="#d4646a"/>
</g>
<path d="M660.46,755.76 c1.7,2 3.4,2.7 4.8,2.9 c1.2,0.3 1.7,2.4 1.8,4.2" class="ts"/>
<path d="M650.70,746.00 c-1,-2.5 -3.5,-3 -4.5,-5.5 c-0.8,-2 -0.6,-3.5 -1.6,-5.5" class="ts"/>
<g transform="translate(650.70,746.00) rotate(-45.0)">
<path d="M-2.85,0 V13.80 A2.85,1.25 0 0 0 2.85,13.80 V0 Z" fill="url(#gRod)"/>
<ellipse cx="0" cy="0" rx="2.85" ry="1.25" fill="#d4646a"/>
</g>
<path d="M681.90,766.60 c-2.2,1.7 -1.8,3.2 -0.1,4.3 c1.8,1.2 1.2,3.2 -0.3,4.9" class="ts"/>
<path d="M681.90,752.50 c-1.8,-3 1.4,-5 0.6,-8 c-0.5,-2 -0.3,-3.5 0.4,-4.5" class="ts"/>
<g transform="translate(681.90,752.50) rotate(0.0)">
<path d="M-2.85,0 V13.80 A2.85,1.25 0 0 0 2.85,13.80 V0 Z" fill="url(#gRod)"/>
<ellipse cx="0" cy="0" rx="2.85" ry="1.25" fill="#d4646a"/>
</g>
<path d="M694.40,766.60 c-2.2,1.7 -1.8,3.2 -0.1,4.3 c1.8,1.2 1.2,3.2 -0.3,4.9" class="ts"/>
<path d="M694.40,752.50 c-1.8,-3 1.4,-5 0.6,-8 c-0.5,-2 -0.3,-3.5 0.4,-4.5" class="ts"/>
<g transform="translate(694.40,752.50) rotate(0.0)">
<path d="M-2.85,0 V13.80 A2.85,1.25 0 0 0 2.85,13.80 V0 Z" fill="url(#gRod)"/>
<ellipse cx="0" cy="0" rx="2.85" ry="1.25" fill="#d4646a"/>
</g>
<path d="M706.20,766.60 c-2.2,1.7 -1.8,3.2 -0.1,4.3 c1.8,1.2 1.2,3.2 -0.3,4.9" class="ts"/>
<path d="M706.20,752.50 c-1.8,-3 1.4,-5 0.6,-8 c-0.5,-2 -0.3,-3.5 0.4,-4.5" class="ts"/>
<g transform="translate(706.20,752.50) rotate(0.0)">
<path d="M-2.85,0 V13.80 A2.85,1.25 0 0 0 2.85,13.80 V0 Z" fill="url(#gRod)"/>
<ellipse cx="0" cy="0" rx="2.85" ry="1.25" fill="#d4646a"/>
</g>
<path d="M575.90,766.90 c-2.2,1.7 -1.8,3.2 -0.1,4.3 c1.8,1.2 1.2,3.2 -0.3,4.9" class="ts"/>
<path d="M575.90,752.80 c-1.8,-3 1.4,-5 0.6,-8 c-0.5,-2 -0.3,-3.5 0.4,-4.5" class="ts"/>
<g transform="translate(575.90,752.80) rotate(0.0)">
<path d="M-2.85,0 V13.80 A2.85,1.25 0 0 0 2.85,13.80 V0 Z" fill="url(#gRod)"/>
<ellipse cx="0" cy="0" rx="2.85" ry="1.25" fill="#d4646a"/>
</g>
<path d="M588.10,766.90 c-2.2,1.7 -1.8,3.2 -0.1,4.3 c1.8,1.2 1.2,3.2 -0.3,4.9" class="ts"/>
<path d="M588.10,752.80 c-1.8,-3 1.4,-5 0.6,-8 c-0.5,-2 -0.3,-3.5 0.4,-4.5" class="ts"/>
<g transform="translate(588.10,752.80) rotate(0.0)">
<path d="M-2.85,0 V13.80 A2.85,1.25 0 0 0 2.85,13.80 V0 Z" fill="url(#gRod)"/>
<ellipse cx="0" cy="0" rx="2.85" ry="1.25" fill="#d4646a"/>
</g>
<path d="M600.40,766.90 c-2.2,1.7 -1.8,3.2 -0.1,4.3 c1.8,1.2 1.2,3.2 -0.3,4.9" class="ts"/>
<path d="M600.40,752.80 c-1.8,-3 1.4,-5 0.6,-8 c-0.5,-2 -0.3,-3.5 0.4,-4.5" class="ts"/>
<g transform="translate(600.40,752.80) rotate(0.0)">
<path d="M-2.85,0 V13.80 A2.85,1.25 0 0 0 2.85,13.80 V0 Z" fill="url(#gRod)"/>
<ellipse cx="0" cy="0" rx="2.85" ry="1.25" fill="#d4646a"/>
</g>
<path d="M626.66,766.01 c1.7,2 3.4,2.7 4.8,2.9 c1.2,0.3 1.7,2.4 1.8,4.2" class="ts"/>
<path d="M616.90,756.25 c-1,-2.5 -3.5,-3 -4.5,-5.5 c-0.8,-2 -0.6,-3.5 -1.6,-5.5" class="ts"/>
<g transform="translate(616.90,756.25) rotate(-45.0)">
<path d="M-2.85,0 V13.80 A2.85,1.25 0 0 0 2.85,13.80 V0 Z" fill="url(#gRod)"/>
<ellipse cx="0" cy="0" rx="2.85" ry="1.25" fill="#d4646a"/>
</g>
<path d="M638.46,766.66 c1.7,2 3.4,2.7 4.8,2.9 c1.2,0.3 1.7,2.4 1.8,4.2" class="ts"/>
<path d="M628.70,756.90 c-1,-2.5 -3.5,-3 -4.5,-5.5 c-0.8,-2 -0.6,-3.5 -1.6,-5.5" class="ts"/>
<g transform="translate(628.70,756.90) rotate(-45.0)">
<path d="M-2.85,0 V13.80 A2.85,1.25 0 0 0 2.85,13.80 V0 Z" fill="url(#gRod)"/>
<ellipse cx="0" cy="0" rx="2.85" ry="1.25" fill="#d4646a"/>
</g>
<path d="M649.76,767.26 c1.7,2 3.4,2.7 4.8,2.9 c1.2,0.3 1.7,2.4 1.8,4.2" class="ts"/>
<path d="M640.00,757.50 c-1,-2.5 -3.5,-3 -4.5,-5.5 c-0.8,-2 -0.6,-3.5 -1.6,-5.5" class="ts"/>
<g transform="translate(640.00,757.50) rotate(-45.0)">
<path d="M-2.85,0 V13.80 A2.85,1.25 0 0 0 2.85,13.80 V0 Z" fill="url(#gRod)"/>
<ellipse cx="0" cy="0" rx="2.85" ry="1.25" fill="#d4646a"/>
</g>
<text x="522.2" y="682" font-size="32">g)</text>
<path d="M578,701 C590,707 602,704 612,692 C630,668 650,640 684,640 C716,640 730,672 745,694 C756,708 770,706 782,700" stroke="#365f91" stroke-width="2" stroke-dasharray="7 5" fill="none"/>
<g transform="translate(615.8,720.0) rotate(0)">
<path d="M-10.00,0 V13.20 A10.00,3.80 0 0 0 10.00,13.20 V0 Z" fill="#365f91" stroke="#2a4a73" stroke-width="0.3"/>
<path class="wl" d="M-10.00,4.40 A10.00,3.80 0 0 0 10.00,4.40 M-10.00,8.80 A10.00,3.80 0 0 0 10.00,8.80 "/>
<ellipse cx="0" cy="0" rx="10.00" ry="3.80" fill="#365f91" stroke="#c9d6e6" stroke-width="0.6"/>
</g>
<g transform="translate(711.9,741.0) rotate(0)">
<path d="M-10.00,0 V12.60 A10.00,3.80 0 0 0 10.00,12.60 V0 Z" fill="#365f91" stroke="#2a4a73" stroke-width="0.3"/>
<path class="wl" d="M-10.00,4.20 A10.00,3.80 0 0 0 10.00,4.20 M-10.00,8.40 A10.00,3.80 0 0 0 10.00,8.40 "/>
<ellipse cx="0" cy="0" rx="10.00" ry="3.80" fill="#365f91" stroke="#c9d6e6" stroke-width="0.6"/>
</g>
<g transform="translate(690.0,660.0) rotate(0)">
<path d="M-9.40,0 V60.00 A9.40,4.20 0 0 0 9.40,60.00 V0 Z" fill="#365f91" stroke="#2a4a73" stroke-width="0.3"/>
<path class="wl" d="M-9.40,4.29 A9.40,4.20 0 0 0 9.40,4.29 M-9.40,8.57 A9.40,4.20 0 0 0 9.40,8.57 M-9.40,12.86 A9.40,4.20 0 0 0 9.40,12.86 M-9.40,17.14 A9.40,4.20 0 0 0 9.40,17.14 M-9.40,21.43 A9.40,4.20 0 0 0 9.40,21.43 M-9.40,25.71 A9.40,4.20 0 0 0 9.40,25.71 M-9.40,30.00 A9.40,4.20 0 0 0 9.40,30.00 M-9.40,34.29 A9.40,4.20 0 0 0 9.40,34.29 M-9.40,38.57 A9.40,4.20 0 0 0 9.40,38.57 M-9.40,42.86 A9.40,4.20 0 0 0 9.40,42.86 M-9.40,47.14 A9.40,4.20 0 0 0 9.40,47.14 M-9.40,51.43 A9.40,4.20 0 0 0 9.40,51.43 M-9.40,55.71 A9.40,4.20 0 0 0 9.40,55.71 "/>
<ellipse cx="0" cy="0" rx="9.40" ry="4.20" fill="#365f91" stroke="#c9d6e6" stroke-width="0.6"/>
</g>
<g transform="translate(669.8,668.5) rotate(0)">
<path d="M-9.40,0 V61.50 A9.40,4.20 0 0 0 9.40,61.50 V0 Z" fill="#365f91" stroke="#2a4a73" stroke-width="0.3"/>
<path class="wl" d="M-9.40,4.39 A9.40,4.20 0 0 0 9.40,4.39 M-9.40,8.79 A9.40,4.20 0 0 0 9.40,8.79 M-9.40,13.18 A9.40,4.20 0 0 0 9.40,13.18 M-9.40,17.57 A9.40,4.20 0 0 0 9.40,17.57 M-9.40,21.96 A9.40,4.20 0 0 0 9.40,21.96 M-9.40,26.36 A9.40,4.20 0 0 0 9.40,26.36 M-9.40,30.75 A9.40,4.20 0 0 0 9.40,30.75 M-9.40,35.14 A9.40,4.20 0 0 0 9.40,35.14 M-9.40,39.54 A9.40,4.20 0 0 0 9.40,39.54 M-9.40,43.93 A9.40,4.20 0 0 0 9.40,43.93 M-9.40,48.32 A9.40,4.20 0 0 0 9.40,48.32 M-9.40,52.71 A9.40,4.20 0 0 0 9.40,52.71 M-9.40,57.11 A9.40,4.20 0 0 0 9.40,57.11 "/>
<ellipse cx="0" cy="0" rx="9.40" ry="4.20" fill="#365f91" stroke="#c9d6e6" stroke-width="0.6"/>
</g>
<g transform="translate(705.8,671.5) rotate(0)">
<path d="M-9.40,0 V42.50 A9.40,4.20 0 0 0 9.40,42.50 V0 Z" fill="#365f91" stroke="#2a4a73" stroke-width="0.3"/>
<path class="wl" d="M-9.40,4.25 A9.40,4.20 0 0 0 9.40,4.25 M-9.40,8.50 A9.40,4.20 0 0 0 9.40,8.50 M-9.40,12.75 A9.40,4.20 0 0 0 9.40,12.75 M-9.40,17.00 A9.40,4.20 0 0 0 9.40,17.00 M-9.40,21.25 A9.40,4.20 0 0 0 9.40,21.25 M-9.40,25.50 A9.40,4.20 0 0 0 9.40,25.50 M-9.40,29.75 A9.40,4.20 0 0 0 9.40,29.75 M-9.40,34.00 A9.40,4.20 0 0 0 9.40,34.00 M-9.40,38.25 A9.40,4.20 0 0 0 9.40,38.25 "/>
<ellipse cx="0" cy="0" rx="9.40" ry="4.20" fill="#365f91" stroke="#c9d6e6" stroke-width="0.6"/>
</g>
<g transform="translate(655.2,689.0) rotate(0)">
<path d="M-9.40,0 V46.00 A9.40,4.20 0 0 0 9.40,46.00 V0 Z" fill="#365f91" stroke="#2a4a73" stroke-width="0.3"/>
<path class="wl" d="M-9.40,4.18 A9.40,4.20 0 0 0 9.40,4.18 M-9.40,8.36 A9.40,4.20 0 0 0 9.40,8.36 M-9.40,12.55 A9.40,4.20 0 0 0 9.40,12.55 M-9.40,16.73 A9.40,4.20 0 0 0 9.40,16.73 M-9.40,20.91 A9.40,4.20 0 0 0 9.40,20.91 M-9.40,25.09 A9.40,4.20 0 0 0 9.40,25.09 M-9.40,29.27 A9.40,4.20 0 0 0 9.40,29.27 M-9.40,33.45 A9.40,4.20 0 0 0 9.40,33.45 M-9.40,37.64 A9.40,4.20 0 0 0 9.40,37.64 M-9.40,41.82 A9.40,4.20 0 0 0 9.40,41.82 "/>
<ellipse cx="0" cy="0" rx="9.40" ry="4.20" fill="#365f91" stroke="#c9d6e6" stroke-width="0.6"/>
</g>
<g transform="translate(683.8,687.0) rotate(0)">
<path d="M-9.40,0 V48.00 A9.40,4.20 0 0 0 9.40,48.00 V0 Z" fill="#365f91" stroke="#2a4a73" stroke-width="0.3"/>
<path class="wl" d="M-9.40,4.36 A9.40,4.20 0 0 0 9.40,4.36 M-9.40,8.73 A9.40,4.20 0 0 0 9.40,8.73 M-9.40,13.09 A9.40,4.20 0 0 0 9.40,13.09 M-9.40,17.45 A9.40,4.20 0 0 0 9.40,17.45 M-9.40,21.82 A9.40,4.20 0 0 0 9.40,21.82 M-9.40,26.18 A9.40,4.20 0 0 0 9.40,26.18 M-9.40,30.55 A9.40,4.20 0 0 0 9.40,30.55 M-9.40,34.91 A9.40,4.20 0 0 0 9.40,34.91 M-9.40,39.27 A9.40,4.20 0 0 0 9.40,39.27 M-9.40,43.64 A9.40,4.20 0 0 0 9.40,43.64 "/>
<ellipse cx="0" cy="0" rx="9.40" ry="4.20" fill="#365f91" stroke="#c9d6e6" stroke-width="0.6"/>
</g>
<g transform="translate(697.0,696.0) rotate(0)">
<path d="M-9.40,0 V32.00 A9.40,4.20 0 0 0 9.40,32.00 V0 Z" fill="#365f91" stroke="#2a4a73" stroke-width="0.3"/>
<path class="wl" d="M-9.40,4.57 A9.40,4.20 0 0 0 9.40,4.57 M-9.40,9.14 A9.40,4.20 0 0 0 9.40,9.14 M-9.40,13.71 A9.40,4.20 0 0 0 9.40,13.71 M-9.40,18.29 A9.40,4.20 0 0 0 9.40,18.29 M-9.40,22.86 A9.40,4.20 0 0 0 9.40,22.86 M-9.40,27.43 A9.40,4.20 0 0 0 9.40,27.43 "/>
<ellipse cx="0" cy="0" rx="9.40" ry="4.20" fill="#365f91" stroke="#c9d6e6" stroke-width="0.6"/>
</g>
<g transform="translate(671.2,683.6) rotate(0)">
<path d="M-9.40,0 V68.40 A9.40,4.20 0 0 0 9.40,68.40 V0 Z" fill="#365f91" stroke="#2a4a73" stroke-width="0.3"/>
<path class="wl" d="M-9.40,4.27 A9.40,4.20 0 0 0 9.40,4.27 M-9.40,8.55 A9.40,4.20 0 0 0 9.40,8.55 M-9.40,12.82 A9.40,4.20 0 0 0 9.40,12.82 M-9.40,17.10 A9.40,4.20 0 0 0 9.40,17.10 M-9.40,21.37 A9.40,4.20 0 0 0 9.40,21.37 M-9.40,25.65 A9.40,4.20 0 0 0 9.40,25.65 M-9.40,29.92 A9.40,4.20 0 0 0 9.40,29.92 M-9.40,34.20 A9.40,4.20 0 0 0 9.40,34.20 M-9.40,38.47 A9.40,4.20 0 0 0 9.40,38.47 M-9.40,42.75 A9.40,4.20 0 0 0 9.40,42.75 M-9.40,47.02 A9.40,4.20 0 0 0 9.40,47.02 M-9.40,51.30 A9.40,4.20 0 0 0 9.40,51.30 M-9.40,55.57 A9.40,4.20 0 0 0 9.40,55.57 M-9.40,59.85 A9.40,4.20 0 0 0 9.40,59.85 M-9.40,64.12 A9.40,4.20 0 0 0 9.40,64.12 "/>
<ellipse cx="0" cy="0" rx="9.40" ry="4.20" fill="#365f91" stroke="#c9d6e6" stroke-width="0.6"/>
</g>
<g transform="translate(648.5,705.8) rotate(0)">
<path d="M-9.40,0 V42.20 A9.40,4.20 0 0 0 9.40,42.20 V0 Z" fill="#365f91" stroke="#2a4a73" stroke-width="0.3"/>
<path class="wl" d="M-9.40,4.22 A9.40,4.20 0 0 0 9.40,4.22 M-9.40,8.44 A9.40,4.20 0 0 0 9.40,8.44 M-9.40,12.66 A9.40,4.20 0 0 0 9.40,12.66 M-9.40,16.88 A9.40,4.20 0 0 0 9.40,16.88 M-9.40,21.10 A9.40,4.20 0 0 0 9.40,21.10 M-9.40,25.32 A9.40,4.20 0 0 0 9.40,25.32 M-9.40,29.54 A9.40,4.20 0 0 0 9.40,29.54 M-9.40,33.76 A9.40,4.20 0 0 0 9.40,33.76 M-9.40,37.98 A9.40,4.20 0 0 0 9.40,37.98 "/>
<ellipse cx="0" cy="0" rx="9.40" ry="4.20" fill="#365f91" stroke="#c9d6e6" stroke-width="0.6"/>
</g>
<g transform="translate(686.2,704.0) rotate(0)">
<path d="M-9.40,0 V42.00 A9.40,4.20 0 0 0 9.40,42.00 V0 Z" fill="#365f91" stroke="#2a4a73" stroke-width="0.3"/>
<path class="wl" d="M-9.40,4.20 A9.40,4.20 0 0 0 9.40,4.20 M-9.40,8.40 A9.40,4.20 0 0 0 9.40,8.40 M-9.40,12.60 A9.40,4.20 0 0 0 9.40,12.60 M-9.40,16.80 A9.40,4.20 0 0 0 9.40,16.80 M-9.40,21.00 A9.40,4.20 0 0 0 9.40,21.00 M-9.40,25.20 A9.40,4.20 0 0 0 9.40,25.20 M-9.40,29.40 A9.40,4.20 0 0 0 9.40,29.40 M-9.40,33.60 A9.40,4.20 0 0 0 9.40,33.60 M-9.40,37.80 A9.40,4.20 0 0 0 9.40,37.80 "/>
<ellipse cx="0" cy="0" rx="9.40" ry="4.20" fill="#365f91" stroke="#c9d6e6" stroke-width="0.6"/>
</g>
<g transform="translate(666.0,728.0) rotate(0)">
<path d="M-9.40,0 V29.00 A9.40,4.20 0 0 0 9.40,29.00 V0 Z" fill="#365f91" stroke="#2a4a73" stroke-width="0.3"/>
<path class="wl" d="M-9.40,4.14 A9.40,4.20 0 0 0 9.40,4.14 M-9.40,8.29 A9.40,4.20 0 0 0 9.40,8.29 M-9.40,12.43 A9.40,4.20 0 0 0 9.40,12.43 M-9.40,16.57 A9.40,4.20 0 0 0 9.40,16.57 M-9.40,20.71 A9.40,4.20 0 0 0 9.40,20.71 M-9.40,24.86 A9.40,4.20 0 0 0 9.40,24.86 "/>
<ellipse cx="0" cy="0" rx="9.40" ry="4.20" fill="#365f91" stroke="#c9d6e6" stroke-width="0.6"/>
</g>
<g transform="translate(606.5,742.0) rotate(76)">
<path d="M-9.60,0 V28.00 A9.60,5.40 0 0 0 9.60,28.00 V0 Z" fill="#365f91" stroke="#2a4a73" stroke-width="0.3"/>
<path class="wl" d="M-9.60,3.50 A9.60,5.40 0 0 0 9.60,3.50 M-9.60,7.00 A9.60,5.40 0 0 0 9.60,7.00 M-9.60,10.50 A9.60,5.40 0 0 0 9.60,10.50 M-9.60,14.00 A9.60,5.40 0 0 0 9.60,14.00 M-9.60,17.50 A9.60,5.40 0 0 0 9.60,17.50 M-9.60,21.00 A9.60,5.40 0 0 0 9.60,21.00 M-9.60,24.50 A9.60,5.40 0 0 0 9.60,24.50 "/>
<ellipse cx="0" cy="0" rx="9.60" ry="5.40" fill="#365f91" stroke="#c9d6e6" stroke-width="0.6"/>
</g>
<g transform="translate(747.5,736.8) rotate(108)">
<path d="M-10.20,0 V27.30 A10.20,5.00 0 0 0 10.20,27.30 V0 Z" fill="#365f91" stroke="#2a4a73" stroke-width="0.3"/>
<path class="wl" d="M-10.20,3.90 A10.20,5.00 0 0 0 10.20,3.90 M-10.20,7.80 A10.20,5.00 0 0 0 10.20,7.80 M-10.20,11.70 A10.20,5.00 0 0 0 10.20,11.70 M-10.20,15.60 A10.20,5.00 0 0 0 10.20,15.60 M-10.20,19.50 A10.20,5.00 0 0 0 10.20,19.50 M-10.20,23.40 A10.20,5.00 0 0 0 10.20,23.40 "/>
<ellipse cx="0" cy="0" rx="10.20" ry="5.00" fill="#365f91" stroke="#c9d6e6" stroke-width="0.6"/>
</g>
</svg></body></html>
